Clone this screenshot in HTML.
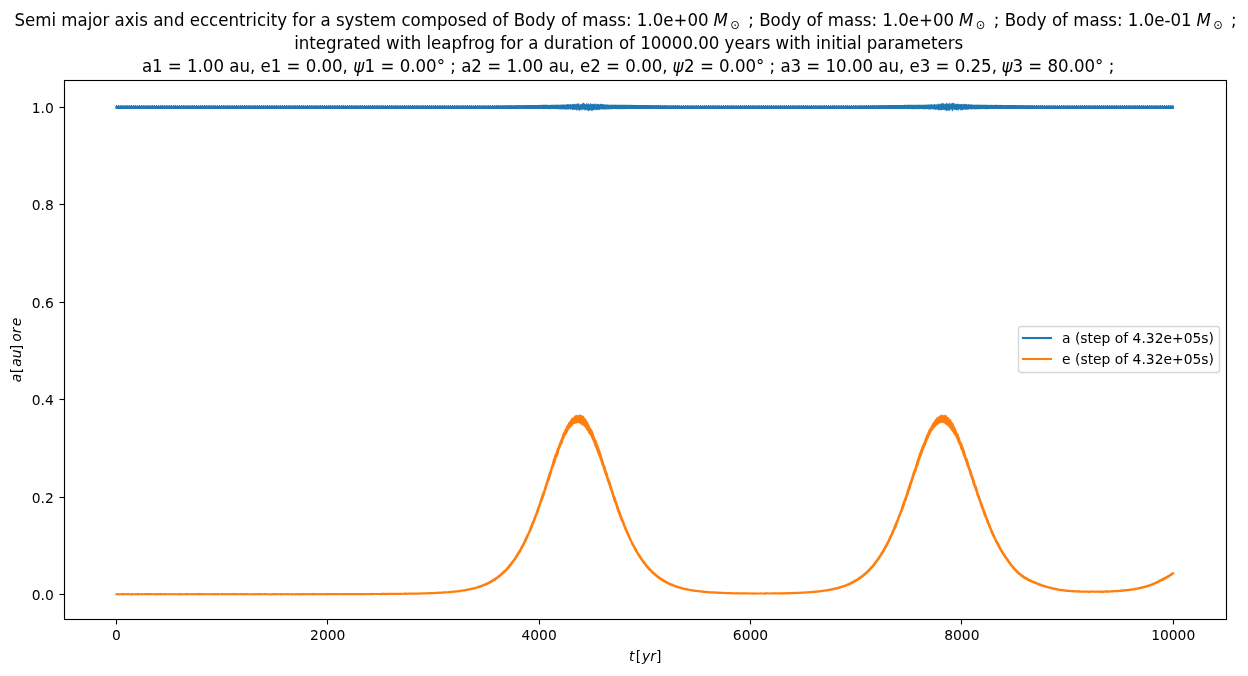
<!DOCTYPE html>
<html lang="en"><head><meta charset="utf-8"><title>Semi major axis and eccentricity</title>
<style>html,body{margin:0;padding:0;background:#fff;}body{width:1248px;height:676px;overflow:hidden;}svg{display:block;}</style>
</head><body>
<svg width="1248" height="676" viewBox="0 0 1248 676" font-family='"DejaVu Sans", "Liberation Sans", sans-serif'>
<rect x="0" y="0" width="1248" height="676" fill="#ffffff"/>
<clipPath id="ax"><rect x="64.5" y="80.5" width="1162.0" height="539.0"/></clipPath>
<g clip-path="url(#ax)">
<path d="M115.40,105.95L115.90,105.95L116.40,105.95L116.90,105.95L117.40,105.95L117.90,105.95L118.40,105.95L118.90,105.95L119.40,105.95L119.90,105.95L120.40,105.95L120.90,105.95L121.40,105.95L121.90,105.95L122.40,105.95L122.90,105.95L123.40,105.95L123.90,105.95L124.40,105.95L124.90,105.95L125.40,105.95L125.90,105.95L126.40,105.95L126.90,105.95L127.40,105.95L127.90,105.95L128.40,105.95L128.90,105.95L129.40,105.95L129.90,105.95L130.40,105.95L130.90,105.95L131.40,105.95L131.90,105.95L132.40,105.95L132.90,105.95L133.40,105.95L133.90,105.95L134.40,105.95L134.90,105.95L135.40,105.95L135.90,105.95L136.40,105.95L136.90,105.95L137.40,105.95L137.90,105.95L138.40,105.95L138.90,105.95L139.40,105.95L139.90,105.95L140.40,105.95L140.90,105.95L141.40,105.95L141.90,105.95L142.40,105.95L142.90,105.95L143.40,105.95L143.90,105.95L144.40,105.95L144.90,105.95L145.40,105.95L145.90,105.95L146.40,105.95L146.90,105.95L147.40,105.95L147.90,105.95L148.40,105.95L148.90,105.95L149.40,105.95L149.90,105.95L150.40,105.95L150.90,105.95L151.40,105.95L151.90,105.95L152.40,105.95L152.90,105.95L153.40,105.95L153.90,105.95L154.40,105.95L154.90,105.95L155.40,105.95L155.90,105.95L156.40,105.95L156.90,105.95L157.40,105.95L157.90,105.95L158.40,105.95L158.90,105.95L159.40,105.95L159.90,105.95L160.40,105.95L160.90,105.95L161.40,105.95L161.90,105.95L162.40,105.95L162.90,105.95L163.40,105.95L163.90,105.95L164.40,105.95L164.90,105.95L165.40,105.95L165.90,105.95L166.40,105.95L166.90,105.95L167.40,105.95L167.90,105.95L168.40,105.95L168.90,105.95L169.40,105.95L169.90,105.95L170.40,105.95L170.90,105.95L171.40,105.95L171.90,105.95L172.40,105.95L172.90,105.95L173.40,105.95L173.90,105.95L174.40,105.95L174.90,105.95L175.40,105.95L175.90,105.95L176.40,105.95L176.90,105.95L177.40,105.95L177.90,105.95L178.40,105.95L178.90,105.95L179.40,105.95L179.90,105.95L180.40,105.95L180.90,105.95L181.40,105.95L181.90,105.95L182.40,105.95L182.90,105.95L183.40,105.95L183.90,105.95L184.40,105.95L184.90,105.95L185.40,105.95L185.90,105.95L186.40,105.95L186.90,105.95L187.40,105.95L187.90,105.95L188.40,105.95L188.90,105.95L189.40,105.95L189.90,105.95L190.40,105.95L190.90,105.95L191.40,105.95L191.90,105.95L192.40,105.95L192.90,105.95L193.40,105.95L193.90,105.95L194.40,105.95L194.90,105.95L195.40,105.95L195.90,105.95L196.40,105.95L196.90,105.95L197.40,105.95L197.90,105.95L198.40,105.95L198.90,105.95L199.40,105.95L199.90,105.95L200.40,105.95L200.90,105.95L201.40,105.95L201.90,105.95L202.40,105.95L202.90,105.95L203.40,105.95L203.90,105.95L204.40,105.95L204.90,105.95L205.40,105.95L205.90,105.95L206.40,105.95L206.90,105.95L207.40,105.95L207.90,105.95L208.40,105.95L208.90,105.95L209.40,105.95L209.90,105.95L210.40,105.95L210.90,105.95L211.40,105.95L211.90,105.95L212.40,105.95L212.90,105.95L213.40,105.95L213.90,105.95L214.40,105.95L214.90,105.95L215.40,105.95L215.90,105.95L216.40,105.95L216.90,105.95L217.40,105.95L217.90,105.95L218.40,105.95L218.90,105.95L219.40,105.95L219.90,105.95L220.40,105.95L220.90,105.95L221.40,105.95L221.90,105.95L222.40,105.95L222.90,105.95L223.40,105.95L223.90,105.95L224.40,105.95L224.90,105.95L225.40,105.95L225.90,105.95L226.40,105.95L226.90,105.95L227.40,105.95L227.90,105.95L228.40,105.95L228.90,105.95L229.40,105.95L229.90,105.95L230.40,105.95L230.90,105.95L231.40,105.95L231.90,105.95L232.40,105.95L232.90,105.95L233.40,105.95L233.90,105.95L234.40,105.95L234.90,105.95L235.40,105.95L235.90,105.95L236.40,105.95L236.90,105.95L237.40,105.95L237.90,105.95L238.40,105.95L238.90,105.95L239.40,105.95L239.90,105.95L240.40,105.95L240.90,105.95L241.40,105.95L241.90,105.95L242.40,105.95L242.90,105.95L243.40,105.95L243.90,105.95L244.40,105.95L244.90,105.95L245.40,105.95L245.90,105.95L246.40,105.95L246.90,105.95L247.40,105.95L247.90,105.95L248.40,105.95L248.90,105.95L249.40,105.95L249.90,105.95L250.40,105.95L250.90,105.95L251.40,105.95L251.90,105.95L252.40,105.95L252.90,105.95L253.40,105.95L253.90,105.95L254.40,105.95L254.90,105.95L255.40,105.95L255.90,105.95L256.40,105.95L256.90,105.95L257.40,105.95L257.90,105.95L258.40,105.95L258.90,105.95L259.40,105.95L259.90,105.95L260.40,105.95L260.90,105.95L261.40,105.95L261.90,105.95L262.40,105.95L262.90,105.95L263.40,105.95L263.90,105.95L264.40,105.95L264.90,105.95L265.40,105.95L265.90,105.95L266.40,105.95L266.90,105.95L267.40,105.95L267.90,105.95L268.40,105.95L268.90,105.95L269.40,105.95L269.90,105.95L270.40,105.95L270.90,105.95L271.40,105.95L271.90,105.95L272.40,105.95L272.90,105.95L273.40,105.95L273.90,105.95L274.40,105.95L274.90,105.95L275.40,105.95L275.90,105.95L276.40,105.95L276.90,105.95L277.40,105.95L277.90,105.95L278.40,105.95L278.90,105.95L279.40,105.95L279.90,105.95L280.40,105.95L280.90,105.95L281.40,105.95L281.90,105.95L282.40,105.95L282.90,105.95L283.40,105.95L283.90,105.95L284.40,105.95L284.90,105.95L285.40,105.95L285.90,105.95L286.40,105.95L286.90,105.95L287.40,105.95L287.90,105.95L288.40,105.95L288.90,105.95L289.40,105.95L289.90,105.95L290.40,105.95L290.90,105.95L291.40,105.95L291.90,105.95L292.40,105.95L292.90,105.95L293.40,105.95L293.90,105.95L294.40,105.95L294.90,105.95L295.40,105.95L295.90,105.95L296.40,105.95L296.90,105.95L297.40,105.95L297.90,105.95L298.40,105.95L298.90,105.95L299.40,105.95L299.90,105.95L300.40,105.95L300.90,105.95L301.40,105.95L301.90,105.95L302.40,105.95L302.90,105.95L303.40,105.95L303.90,105.95L304.40,105.95L304.90,105.95L305.40,105.95L305.90,105.95L306.40,105.95L306.90,105.95L307.40,105.95L307.90,105.95L308.40,105.95L308.90,105.95L309.40,105.95L309.90,105.95L310.40,105.95L310.90,105.95L311.40,105.95L311.90,105.95L312.40,105.95L312.90,105.95L313.40,105.95L313.90,105.95L314.40,105.95L314.90,105.95L315.40,105.95L315.90,105.95L316.40,105.95L316.90,105.95L317.40,105.95L317.90,105.95L318.40,105.95L318.90,105.95L319.40,105.95L319.90,105.95L320.40,105.95L320.90,105.95L321.40,105.95L321.90,105.95L322.40,105.95L322.90,105.95L323.40,105.95L323.90,105.95L324.40,105.95L324.90,105.95L325.40,105.95L325.90,105.95L326.40,105.95L326.90,105.95L327.40,105.95L327.90,105.95L328.40,105.95L328.90,105.95L329.40,105.95L329.90,105.95L330.40,105.95L330.90,105.95L331.40,105.95L331.90,105.95L332.40,105.95L332.90,105.95L333.40,105.95L333.90,105.95L334.40,105.95L334.90,105.95L335.40,105.95L335.90,105.95L336.40,105.95L336.90,105.95L337.40,105.95L337.90,105.95L338.40,105.95L338.90,105.95L339.40,105.95L339.90,105.95L340.40,105.95L340.90,105.95L341.40,105.95L341.90,105.95L342.40,105.95L342.90,105.95L343.40,105.95L343.90,105.95L344.40,105.95L344.90,105.95L345.40,105.95L345.90,105.95L346.40,105.95L346.90,105.95L347.40,105.95L347.90,105.95L348.40,105.95L348.90,105.95L349.40,105.95L349.90,105.95L350.40,105.95L350.90,105.95L351.40,105.95L351.90,105.95L352.40,105.95L352.90,105.95L353.40,105.95L353.90,105.95L354.40,105.95L354.90,105.95L355.40,105.95L355.90,105.95L356.40,105.95L356.90,105.95L357.40,105.95L357.90,105.95L358.40,105.95L358.90,105.95L359.40,105.95L359.90,105.95L360.40,105.95L360.90,105.95L361.40,105.95L361.90,105.95L362.40,105.95L362.90,105.95L363.40,105.95L363.90,105.95L364.40,105.95L364.90,105.95L365.40,105.95L365.90,105.95L366.40,105.95L366.90,105.95L367.40,105.95L367.90,105.95L368.40,105.95L368.90,105.95L369.40,105.95L369.90,105.95L370.40,105.95L370.90,105.95L371.40,105.95L371.90,105.95L372.40,105.95L372.90,105.95L373.40,105.95L373.90,105.95L374.40,105.95L374.90,105.95L375.40,105.95L375.90,105.95L376.40,105.95L376.90,105.95L377.40,105.95L377.90,105.95L378.40,105.95L378.90,105.95L379.40,105.95L379.90,105.95L380.40,105.95L380.90,105.95L381.40,105.95L381.90,105.95L382.40,105.95L382.90,105.95L383.40,105.95L383.90,105.95L384.40,105.95L384.90,105.95L385.40,105.95L385.90,105.95L386.40,105.95L386.90,105.95L387.40,105.95L387.90,105.95L388.40,105.95L388.90,105.95L389.40,105.95L389.90,105.95L390.40,105.95L390.90,105.95L391.40,105.95L391.90,105.95L392.40,105.95L392.90,105.95L393.40,105.95L393.90,105.95L394.40,105.95L394.90,105.95L395.40,105.95L395.90,105.95L396.40,105.95L396.90,105.95L397.40,105.95L397.90,105.95L398.40,105.95L398.90,105.95L399.40,105.95L399.90,105.95L400.40,105.95L400.90,105.95L401.40,105.95L401.90,105.95L402.40,105.95L402.90,105.95L403.40,105.95L403.90,105.95L404.40,105.95L404.90,105.95L405.40,105.95L405.90,105.95L406.40,105.95L406.90,105.95L407.40,105.95L407.90,105.95L408.40,105.95L408.90,105.95L409.40,105.95L409.90,105.95L410.40,105.95L410.90,105.95L411.40,105.95L411.90,105.95L412.40,105.95L412.90,105.95L413.40,105.95L413.90,105.95L414.40,105.95L414.90,105.95L415.40,105.95L415.90,105.95L416.40,105.95L416.90,105.95L417.40,105.95L417.90,105.95L418.40,105.95L418.90,105.95L419.40,105.95L419.90,105.95L420.40,105.95L420.90,105.95L421.40,105.95L421.90,105.95L422.40,105.95L422.90,105.95L423.40,105.95L423.90,105.95L424.40,105.95L424.90,105.95L425.40,105.95L425.90,105.95L426.40,105.95L426.90,105.95L427.40,105.95L427.90,105.95L428.40,105.95L428.90,105.95L429.40,105.95L429.90,105.95L430.40,105.95L430.90,105.95L431.40,105.95L431.90,105.95L432.40,105.95L432.90,105.95L433.40,105.95L433.90,105.95L434.40,105.95L434.90,105.95L435.40,105.95L435.90,105.95L436.40,105.95L436.90,105.95L437.40,105.95L437.90,105.95L438.40,105.95L438.90,105.95L439.40,105.95L439.90,105.95L440.40,105.95L440.90,105.95L441.40,105.95L441.90,105.95L442.40,105.95L442.90,105.95L443.40,105.95L443.90,105.95L444.40,105.95L444.90,105.95L445.40,105.95L445.90,105.95L446.40,105.95L446.90,105.95L447.40,105.95L447.90,105.95L448.40,105.95L448.90,105.95L449.40,105.95L449.90,105.95L450.40,105.95L450.90,105.95L451.40,105.95L451.90,105.95L452.40,105.95L452.90,105.95L453.40,105.95L453.90,105.95L454.40,105.95L454.90,105.95L455.40,105.95L455.90,105.95L456.40,105.95L456.90,105.95L457.40,105.95L457.90,105.95L458.40,105.95L458.90,105.95L459.40,105.95L459.90,105.95L460.40,105.95L460.90,105.95L461.40,105.95L461.90,105.95L462.40,105.95L462.90,105.95L463.40,105.95L463.90,105.95L464.40,105.95L464.90,105.95L465.40,105.95L465.90,105.95L466.40,105.95L466.90,105.95L467.40,105.95L467.90,105.95L468.40,105.95L468.90,105.95L469.40,105.95L469.90,105.95L470.40,105.95L470.90,105.95L471.40,105.95L471.90,105.95L472.40,105.95L472.90,105.95L473.40,105.95L473.90,105.95L474.40,105.95L474.90,105.95L475.40,105.95L475.90,105.95L476.40,105.95L476.90,105.95L477.40,105.95L477.90,105.95L478.40,105.95L478.90,105.95L479.40,105.95L479.90,105.95L480.40,105.95L480.90,105.95L481.40,105.95L481.90,105.95L482.40,105.95L482.90,105.95L483.40,105.95L483.90,105.94L484.40,105.94L484.90,105.94L485.40,105.94L485.90,105.94L486.40,105.94L486.90,105.94L487.40,105.94L487.90,105.93L488.40,105.93L488.90,105.93L489.40,105.93L489.90,105.92L490.40,105.92L490.90,105.92L491.40,105.91L491.90,105.91L492.40,105.91L492.90,105.90L493.40,105.90L493.90,105.89L494.40,105.89L494.90,105.88L495.40,105.87L495.90,105.87L496.40,105.86L496.90,105.85L497.40,105.84L497.90,105.84L498.40,105.83L498.90,105.82L499.40,105.81L499.90,105.80L500.40,105.79L500.90,105.78L501.40,105.76L501.90,105.76L502.40,105.74L502.90,105.73L503.40,105.72L503.90,105.71L504.40,105.69L504.90,105.68L505.40,105.67L505.90,105.65L506.40,105.64L506.90,105.62L507.40,105.61L507.90,105.59L508.40,105.58L508.90,105.56L509.40,105.55L509.90,105.53L510.40,105.51L510.90,105.50L511.40,105.49L511.90,105.48L512.40,105.45L512.90,105.43L513.40,105.43L513.90,105.42L514.40,105.40L514.90,105.37L515.40,105.36L515.90,105.35L516.40,105.34L516.90,105.32L517.40,105.32L517.90,105.29L518.40,105.27L518.90,105.27L519.40,105.25L519.90,105.25L520.40,105.21L520.90,105.21L521.40,105.19L521.90,105.18L522.40,105.18L522.90,105.17L523.40,105.15L523.90,105.15L524.40,105.13L524.90,105.13L525.40,105.09L525.90,105.08L526.40,105.07L526.90,105.09L527.40,105.04L527.90,105.04L528.40,105.05L528.90,105.05L529.40,105.02L529.90,105.02L530.40,104.99L530.90,105.02L531.40,105.01L531.90,104.96L532.40,104.99L532.90,104.99L533.40,104.93L533.90,104.94L534.40,104.95L534.90,104.96L535.40,104.94L535.90,104.89L536.40,104.94L536.90,104.92L537.40,104.91L537.90,104.93L538.40,104.86L538.90,104.94L539.40,104.88L539.90,104.84L540.40,104.93L540.90,104.89L541.40,104.83L541.90,104.89L542.40,104.84L542.90,104.86L543.40,104.87L543.90,104.84L544.40,104.82L544.90,104.76L545.40,104.85L545.90,104.80L546.40,104.81L546.90,104.87L547.40,104.85L547.90,104.89L548.40,104.88L548.90,104.81L549.40,104.72L549.90,104.88L550.40,104.88L550.90,104.78L551.40,104.72L551.90,104.74L552.40,104.83L552.90,104.70L553.40,104.77L553.90,104.64L554.40,104.81L554.90,104.67L555.40,104.67L555.90,104.83L556.40,104.60L556.90,104.65L557.40,104.73L557.90,104.58L558.40,104.79L558.90,104.75L559.40,104.75L559.90,104.65L560.40,104.67L560.90,104.51L561.40,104.44L561.90,104.84L562.40,104.51L562.90,104.45L563.40,104.48L563.90,104.38L564.40,104.40L564.90,104.46L565.40,104.70L565.90,104.47L566.40,104.60L566.90,104.27L567.40,104.30L567.90,104.10L568.40,104.13L568.90,104.32L569.40,104.78L569.90,103.93L570.40,103.96L570.90,103.98L571.40,104.72L571.90,104.32L572.40,103.82L572.90,104.61L573.40,103.43L573.90,104.08L574.40,103.89L574.90,104.61L575.40,103.54L575.90,104.58L576.40,103.20L576.90,104.44L577.40,103.42L577.90,103.43L578.40,103.06L578.90,103.72L579.40,104.58L579.90,104.39L580.40,104.58L580.90,104.00L581.40,103.66L581.90,103.73L582.40,103.66L582.90,103.12L583.40,102.74L583.90,102.75L584.40,103.47L584.90,104.07L585.40,104.14L585.90,104.23L586.40,103.23L586.90,102.55L587.40,104.38L587.90,104.19L588.40,103.13L588.90,103.32L589.40,104.44L589.90,104.21L590.40,102.66L590.90,103.65L591.40,103.66L591.90,104.51L592.40,103.94L592.90,103.81L593.40,103.96L593.90,103.54L594.40,104.48L594.90,103.57L595.40,103.36L595.90,104.22L596.40,104.38L596.90,103.87L597.40,103.96L597.90,104.25L598.40,103.42L598.90,103.93L599.40,104.74L599.90,104.05L600.40,103.71L600.90,103.98L601.40,103.75L601.90,104.03L602.40,103.90L602.90,104.32L603.40,104.29L603.90,104.51L604.40,104.19L604.90,104.18L605.40,104.62L605.90,104.80L606.40,104.43L606.90,104.28L607.40,104.58L607.90,104.69L608.40,104.84L608.90,104.72L609.40,104.59L609.90,104.74L610.40,104.69L610.90,104.73L611.40,104.85L611.90,104.73L612.40,104.56L612.90,104.66L613.40,104.81L613.90,104.64L614.40,104.85L614.90,104.72L615.40,104.59L615.90,104.70L616.40,104.68L616.90,104.71L617.40,104.79L617.90,104.64L618.40,104.75L618.90,104.74L619.40,104.81L619.90,104.74L620.40,104.86L620.90,104.83L621.40,104.77L621.90,104.74L622.40,104.75L622.90,104.86L623.40,104.80L623.90,104.78L624.40,104.82L624.90,104.84L625.40,104.80L625.90,104.80L626.40,104.87L626.90,104.77L627.40,104.88L627.90,104.86L628.40,104.81L628.90,104.90L629.40,104.80L629.90,104.81L630.40,104.87L630.90,104.82L631.40,104.86L631.90,104.88L632.40,104.82L632.90,104.88L633.40,104.88L633.90,104.88L634.40,104.88L634.90,104.87L635.40,104.94L635.90,104.89L636.40,104.88L636.90,104.89L637.40,104.93L637.90,104.97L638.40,104.96L638.90,104.97L639.40,104.93L639.90,104.96L640.40,104.98L640.90,104.98L641.40,104.99L641.90,104.96L642.40,104.96L642.90,104.97L643.40,105.02L643.90,104.99L644.40,105.04L644.90,105.02L645.40,105.05L645.90,105.06L646.40,105.05L646.90,105.07L647.40,105.10L647.90,105.09L648.40,105.11L648.90,105.11L649.40,105.14L649.90,105.12L650.40,105.13L650.90,105.14L651.40,105.18L651.90,105.19L652.40,105.19L652.90,105.21L653.40,105.21L653.90,105.23L654.40,105.25L654.90,105.26L655.40,105.26L655.90,105.29L656.40,105.29L656.90,105.31L657.40,105.33L657.90,105.33L658.40,105.35L658.90,105.36L659.40,105.38L659.90,105.40L660.40,105.41L660.90,105.43L661.40,105.45L661.90,105.46L662.40,105.47L662.90,105.49L663.40,105.51L663.90,105.52L664.40,105.54L664.90,105.55L665.40,105.57L665.90,105.58L666.40,105.59L666.90,105.61L667.40,105.63L667.90,105.64L668.40,105.66L668.90,105.67L669.40,105.68L669.90,105.70L670.40,105.71L670.90,105.72L671.40,105.73L671.90,105.75L672.40,105.76L672.90,105.77L673.40,105.78L673.90,105.79L674.40,105.80L674.90,105.81L675.40,105.82L675.90,105.83L676.40,105.84L676.90,105.85L677.40,105.86L677.90,105.86L678.40,105.87L678.90,105.88L679.40,105.88L679.90,105.89L680.40,105.89L680.90,105.90L681.40,105.90L681.90,105.91L682.40,105.91L682.90,105.92L683.40,105.92L683.90,105.92L684.40,105.92L684.90,105.93L685.40,105.93L685.90,105.93L686.40,105.93L686.90,105.94L687.40,105.94L687.90,105.94L688.40,105.94L688.90,105.94L689.40,105.94L689.90,105.94L690.40,105.95L690.90,105.95L691.40,105.95L691.90,105.95L692.40,105.95L692.90,105.95L693.40,105.95L693.90,105.95L694.40,105.95L694.90,105.95L695.40,105.95L695.90,105.95L696.40,105.95L696.90,105.95L697.40,105.95L697.90,105.95L698.40,105.95L698.90,105.95L699.40,105.95L699.90,105.95L700.40,105.95L700.90,105.95L701.40,105.95L701.90,105.95L702.40,105.95L702.90,105.95L703.40,105.95L703.90,105.95L704.40,105.95L704.90,105.95L705.40,105.95L705.90,105.95L706.40,105.95L706.90,105.95L707.40,105.95L707.90,105.95L708.40,105.95L708.90,105.95L709.40,105.95L709.90,105.95L710.40,105.95L710.90,105.95L711.40,105.95L711.90,105.95L712.40,105.95L712.90,105.95L713.40,105.95L713.90,105.95L714.40,105.95L714.90,105.95L715.40,105.95L715.90,105.95L716.40,105.95L716.90,105.95L717.40,105.95L717.90,105.95L718.40,105.95L718.90,105.95L719.40,105.95L719.90,105.95L720.40,105.95L720.90,105.95L721.40,105.95L721.90,105.95L722.40,105.95L722.90,105.95L723.40,105.95L723.90,105.95L724.40,105.95L724.90,105.95L725.40,105.95L725.90,105.95L726.40,105.95L726.90,105.95L727.40,105.95L727.90,105.95L728.40,105.95L728.90,105.95L729.40,105.95L729.90,105.95L730.40,105.95L730.90,105.95L731.40,105.95L731.90,105.95L732.40,105.95L732.90,105.95L733.40,105.95L733.90,105.95L734.40,105.95L734.90,105.95L735.40,105.95L735.90,105.95L736.40,105.95L736.90,105.95L737.40,105.95L737.90,105.95L738.40,105.95L738.90,105.95L739.40,105.95L739.90,105.95L740.40,105.95L740.90,105.95L741.40,105.95L741.90,105.95L742.40,105.95L742.90,105.95L743.40,105.95L743.90,105.95L744.40,105.95L744.90,105.95L745.40,105.95L745.90,105.95L746.40,105.95L746.90,105.95L747.40,105.95L747.90,105.95L748.40,105.95L748.90,105.95L749.40,105.95L749.90,105.95L750.40,105.95L750.90,105.95L751.40,105.95L751.90,105.95L752.40,105.95L752.90,105.95L753.40,105.95L753.90,105.95L754.40,105.95L754.90,105.95L755.40,105.95L755.90,105.95L756.40,105.95L756.90,105.95L757.40,105.95L757.90,105.95L758.40,105.95L758.90,105.95L759.40,105.95L759.90,105.95L760.40,105.95L760.90,105.95L761.40,105.95L761.90,105.95L762.40,105.95L762.90,105.95L763.40,105.95L763.90,105.95L764.40,105.95L764.90,105.95L765.40,105.95L765.90,105.95L766.40,105.95L766.90,105.95L767.40,105.95L767.90,105.95L768.40,105.95L768.90,105.95L769.40,105.95L769.90,105.95L770.40,105.95L770.90,105.95L771.40,105.95L771.90,105.95L772.40,105.95L772.90,105.95L773.40,105.95L773.90,105.95L774.40,105.95L774.90,105.95L775.40,105.95L775.90,105.95L776.40,105.95L776.90,105.95L777.40,105.95L777.90,105.95L778.40,105.95L778.90,105.95L779.40,105.95L779.90,105.95L780.40,105.95L780.90,105.95L781.40,105.95L781.90,105.95L782.40,105.95L782.90,105.95L783.40,105.95L783.90,105.95L784.40,105.95L784.90,105.95L785.40,105.95L785.90,105.95L786.40,105.95L786.90,105.95L787.40,105.95L787.90,105.95L788.40,105.95L788.90,105.95L789.40,105.95L789.90,105.95L790.40,105.95L790.90,105.95L791.40,105.95L791.90,105.95L792.40,105.95L792.90,105.95L793.40,105.95L793.90,105.95L794.40,105.95L794.90,105.95L795.40,105.95L795.90,105.95L796.40,105.95L796.90,105.95L797.40,105.95L797.90,105.95L798.40,105.95L798.90,105.95L799.40,105.95L799.90,105.95L800.40,105.95L800.90,105.95L801.40,105.95L801.90,105.95L802.40,105.95L802.90,105.95L803.40,105.95L803.90,105.95L804.40,105.95L804.90,105.95L805.40,105.95L805.90,105.95L806.40,105.95L806.90,105.95L807.40,105.95L807.90,105.95L808.40,105.95L808.90,105.95L809.40,105.95L809.90,105.95L810.40,105.95L810.90,105.95L811.40,105.95L811.90,105.95L812.40,105.95L812.90,105.95L813.40,105.95L813.90,105.95L814.40,105.95L814.90,105.95L815.40,105.95L815.90,105.95L816.40,105.95L816.90,105.95L817.40,105.95L817.90,105.95L818.40,105.95L818.90,105.95L819.40,105.95L819.90,105.95L820.40,105.95L820.90,105.95L821.40,105.95L821.90,105.95L822.40,105.95L822.90,105.95L823.40,105.95L823.90,105.95L824.40,105.95L824.90,105.95L825.40,105.95L825.90,105.95L826.40,105.95L826.90,105.95L827.40,105.95L827.90,105.95L828.40,105.95L828.90,105.95L829.40,105.95L829.90,105.95L830.40,105.95L830.90,105.95L831.40,105.95L831.90,105.95L832.40,105.95L832.90,105.95L833.40,105.95L833.90,105.95L834.40,105.95L834.90,105.95L835.40,105.95L835.90,105.95L836.40,105.95L836.90,105.95L837.40,105.95L837.90,105.95L838.40,105.95L838.90,105.95L839.40,105.95L839.90,105.95L840.40,105.95L840.90,105.95L841.40,105.95L841.90,105.95L842.40,105.95L842.90,105.95L843.40,105.95L843.90,105.95L844.40,105.95L844.90,105.95L845.40,105.95L845.90,105.95L846.40,105.95L846.90,105.95L847.40,105.95L847.90,105.95L848.40,105.94L848.90,105.94L849.40,105.94L849.90,105.94L850.40,105.94L850.90,105.94L851.40,105.94L851.90,105.94L852.40,105.93L852.90,105.93L853.40,105.93L853.90,105.93L854.40,105.92L854.90,105.92L855.40,105.92L855.90,105.91L856.40,105.91L856.90,105.90L857.40,105.90L857.90,105.89L858.40,105.89L858.90,105.88L859.40,105.88L859.90,105.87L860.40,105.86L860.90,105.86L861.40,105.85L861.90,105.84L862.40,105.83L862.90,105.82L863.40,105.82L863.90,105.81L864.40,105.79L864.90,105.78L865.40,105.77L865.90,105.76L866.40,105.75L866.90,105.74L867.40,105.72L867.90,105.71L868.40,105.70L868.90,105.69L869.40,105.68L869.90,105.66L870.40,105.65L870.90,105.63L871.40,105.62L871.90,105.60L872.40,105.58L872.90,105.58L873.40,105.56L873.90,105.54L874.40,105.52L874.90,105.51L875.40,105.49L875.90,105.48L876.40,105.47L876.90,105.44L877.40,105.43L877.90,105.42L878.40,105.40L878.90,105.39L879.40,105.37L879.90,105.36L880.40,105.35L880.90,105.34L881.40,105.31L881.90,105.29L882.40,105.29L882.90,105.26L883.40,105.25L883.90,105.24L884.40,105.22L884.90,105.22L885.40,105.20L885.90,105.20L886.40,105.18L886.90,105.17L887.40,105.15L887.90,105.14L888.40,105.13L888.90,105.11L889.40,105.09L889.90,105.11L890.40,105.08L890.90,105.06L891.40,105.05L891.90,105.06L892.40,105.07L892.90,105.03L893.40,105.01L893.90,104.99L894.40,105.02L894.90,105.01L895.40,105.00L895.90,105.02L896.40,104.98L896.90,104.99L897.40,104.93L897.90,104.99L898.40,104.94L898.90,104.92L899.40,104.96L899.90,104.94L900.40,104.96L900.90,104.89L901.40,104.94L901.90,104.94L902.40,104.94L902.90,104.91L903.40,104.92L903.90,104.84L904.40,104.85L904.90,104.82L905.40,104.84L905.90,104.90L906.40,104.91L906.90,104.86L907.40,104.87L907.90,104.81L908.40,104.81L908.90,104.87L909.40,104.76L909.90,104.76L910.40,104.76L910.90,104.84L911.40,104.80L911.90,104.82L912.40,104.84L912.90,104.87L913.40,104.76L913.90,104.72L914.40,104.72L914.90,104.88L915.40,104.83L915.90,104.77L916.40,104.71L916.90,104.84L917.40,104.68L917.90,104.65L918.40,104.78L918.90,104.68L919.40,104.87L919.90,104.69L920.40,104.80L920.90,104.74L921.40,104.76L921.90,104.77L922.40,104.76L922.90,104.81L923.40,104.72L923.90,104.59L924.40,104.83L924.90,104.63L925.40,104.85L925.90,104.81L926.40,104.45L926.90,104.84L927.40,104.48L927.90,104.43L928.40,104.49L928.90,104.43L929.40,104.42L929.90,104.50L930.40,104.39L930.90,104.29L931.40,104.34L931.90,104.20L932.40,104.80L932.90,104.21L933.40,104.76L933.90,104.36L934.40,104.10L934.90,104.08L935.40,104.58L935.90,104.73L936.40,104.21L936.90,104.26L937.40,104.67L937.90,103.63L938.40,104.27L938.90,103.43L939.40,103.61L939.90,104.45L940.40,104.05L940.90,103.69L941.40,103.62L941.90,102.90L942.40,103.44L942.90,102.77L943.40,103.46L943.90,103.39L944.40,104.45L944.90,103.24L945.40,103.86L945.90,104.17L946.40,102.89L946.90,102.46L947.40,104.09L947.90,102.93L948.40,104.33L948.90,103.17L949.40,103.70L949.90,102.26L950.40,104.50L950.90,102.47L951.40,103.94L951.90,103.08L952.40,103.17L952.90,102.67L953.40,103.28L953.90,102.38L954.40,104.35L954.90,103.02L955.40,103.75L955.90,104.41L956.40,103.87L956.90,103.92L957.40,103.42L957.90,104.00L958.40,104.27L958.90,103.47L959.40,104.53L959.90,103.74L960.40,104.35L960.90,104.23L961.40,103.61L961.90,104.29L962.40,103.96L962.90,104.54L963.40,103.80L963.90,104.68L964.40,103.82L964.90,103.86L965.40,103.95L965.90,104.11L966.40,104.07L966.90,104.41L967.40,104.46L967.90,104.18L968.40,104.31L968.90,104.11L969.40,104.66L969.90,104.32L970.40,104.44L970.90,104.35L971.40,104.43L971.90,104.44L972.40,104.77L972.90,104.56L973.40,104.63L973.90,104.73L974.40,104.49L974.90,104.82L975.40,104.83L975.90,104.64L976.40,104.65L976.90,104.58L977.40,104.79L977.90,104.77L978.40,104.58L978.90,104.86L979.40,104.77L979.90,104.86L980.40,104.63L980.90,104.81L981.40,104.64L981.90,104.64L982.40,104.65L982.90,104.77L983.40,104.72L983.90,104.77L984.40,104.87L984.90,104.82L985.40,104.76L985.90,104.82L986.40,104.80L986.90,104.77L987.40,104.88L987.90,104.83L988.40,104.89L988.90,104.80L989.40,104.88L989.90,104.83L990.40,104.85L990.90,104.90L991.40,104.77L991.90,104.88L992.40,104.81L992.90,104.90L993.40,104.90L993.90,104.91L994.40,104.88L994.90,104.80L995.40,104.84L995.90,104.82L996.40,104.87L996.90,104.91L997.40,104.85L997.90,104.92L998.40,104.90L998.90,104.87L999.40,104.92L999.90,104.86L1000.40,104.87L1000.90,104.88L1001.40,104.96L1001.90,104.91L1002.40,104.97L1002.90,104.95L1003.40,104.92L1003.90,104.92L1004.40,104.92L1004.90,104.95L1005.40,104.98L1005.90,104.99L1006.40,104.99L1006.90,104.98L1007.40,105.02L1007.90,104.99L1008.40,105.01L1008.90,105.02L1009.40,105.06L1009.90,105.03L1010.40,105.06L1010.90,105.07L1011.40,105.05L1011.90,105.06L1012.40,105.08L1012.90,105.12L1013.40,105.11L1013.90,105.11L1014.40,105.14L1014.90,105.15L1015.40,105.16L1015.90,105.17L1016.40,105.18L1016.90,105.18L1017.40,105.22L1017.90,105.22L1018.40,105.23L1018.90,105.24L1019.40,105.26L1019.90,105.28L1020.40,105.29L1020.90,105.31L1021.40,105.32L1021.90,105.33L1022.40,105.34L1022.90,105.36L1023.40,105.38L1023.90,105.39L1024.40,105.41L1024.90,105.42L1025.40,105.44L1025.90,105.45L1026.40,105.46L1026.90,105.49L1027.40,105.50L1027.90,105.51L1028.40,105.53L1028.90,105.54L1029.40,105.55L1029.90,105.57L1030.40,105.59L1030.90,105.60L1031.40,105.61L1031.90,105.63L1032.40,105.65L1032.90,105.66L1033.40,105.67L1033.90,105.69L1034.40,105.70L1034.90,105.72L1035.40,105.73L1035.90,105.74L1036.40,105.75L1036.90,105.76L1037.40,105.77L1037.90,105.78L1038.40,105.80L1038.90,105.81L1039.40,105.81L1039.90,105.82L1040.40,105.83L1040.90,105.84L1041.40,105.85L1041.90,105.86L1042.40,105.86L1042.90,105.87L1043.40,105.88L1043.90,105.88L1044.40,105.89L1044.90,105.90L1045.40,105.90L1045.90,105.90L1046.40,105.91L1046.90,105.91L1047.40,105.92L1047.90,105.92L1048.40,105.92L1048.90,105.93L1049.40,105.93L1049.90,105.93L1050.40,105.93L1050.90,105.94L1051.40,105.94L1051.90,105.94L1052.40,105.94L1052.90,105.94L1053.40,105.94L1053.90,105.94L1054.40,105.94L1054.90,105.95L1055.40,105.95L1055.90,105.95L1056.40,105.95L1056.90,105.95L1057.40,105.95L1057.90,105.95L1058.40,105.95L1058.90,105.95L1059.40,105.95L1059.90,105.95L1060.40,105.95L1060.90,105.95L1061.40,105.95L1061.90,105.95L1062.40,105.95L1062.90,105.95L1063.40,105.95L1063.90,105.95L1064.40,105.95L1064.90,105.95L1065.40,105.95L1065.90,105.95L1066.40,105.95L1066.90,105.95L1067.40,105.95L1067.90,105.95L1068.40,105.95L1068.90,105.95L1069.40,105.95L1069.90,105.95L1070.40,105.95L1070.90,105.95L1071.40,105.95L1071.90,105.95L1072.40,105.95L1072.90,105.95L1073.40,105.95L1073.90,105.95L1074.40,105.95L1074.90,105.95L1075.40,105.95L1075.90,105.95L1076.40,105.95L1076.90,105.95L1077.40,105.95L1077.90,105.95L1078.40,105.95L1078.90,105.95L1079.40,105.95L1079.90,105.95L1080.40,105.95L1080.90,105.95L1081.40,105.95L1081.90,105.95L1082.40,105.95L1082.90,105.95L1083.40,105.95L1083.90,105.95L1084.40,105.95L1084.90,105.95L1085.40,105.95L1085.90,105.95L1086.40,105.95L1086.90,105.95L1087.40,105.95L1087.90,105.95L1088.40,105.95L1088.90,105.95L1089.40,105.95L1089.90,105.95L1090.40,105.95L1090.90,105.95L1091.40,105.95L1091.90,105.95L1092.40,105.95L1092.90,105.95L1093.40,105.95L1093.90,105.95L1094.40,105.95L1094.90,105.95L1095.40,105.95L1095.90,105.95L1096.40,105.95L1096.90,105.95L1097.40,105.95L1097.90,105.95L1098.40,105.95L1098.90,105.95L1099.40,105.95L1099.90,105.95L1100.40,105.95L1100.90,105.95L1101.40,105.95L1101.90,105.95L1102.40,105.95L1102.90,105.95L1103.40,105.95L1103.90,105.95L1104.40,105.95L1104.90,105.95L1105.40,105.95L1105.90,105.95L1106.40,105.95L1106.90,105.95L1107.40,105.95L1107.90,105.95L1108.40,105.95L1108.90,105.95L1109.40,105.95L1109.90,105.95L1110.40,105.95L1110.90,105.95L1111.40,105.95L1111.90,105.95L1112.40,105.95L1112.90,105.95L1113.40,105.95L1113.90,105.95L1114.40,105.95L1114.90,105.95L1115.40,105.95L1115.90,105.95L1116.40,105.95L1116.90,105.95L1117.40,105.95L1117.90,105.95L1118.40,105.95L1118.90,105.95L1119.40,105.95L1119.90,105.95L1120.40,105.95L1120.90,105.95L1121.40,105.95L1121.90,105.95L1122.40,105.95L1122.90,105.95L1123.40,105.95L1123.90,105.95L1124.40,105.95L1124.90,105.95L1125.40,105.95L1125.90,105.95L1126.40,105.95L1126.90,105.95L1127.40,105.95L1127.90,105.95L1128.40,105.95L1128.90,105.95L1129.40,105.95L1129.90,105.95L1130.40,105.95L1130.90,105.95L1131.40,105.95L1131.90,105.95L1132.40,105.95L1132.90,105.95L1133.40,105.95L1133.90,105.95L1134.40,105.95L1134.90,105.95L1135.40,105.95L1135.90,105.95L1136.40,105.95L1136.90,105.95L1137.40,105.95L1137.90,105.95L1138.40,105.95L1138.90,105.95L1139.40,105.95L1139.90,105.95L1140.40,105.95L1140.90,105.95L1141.40,105.95L1141.90,105.95L1142.40,105.95L1142.90,105.95L1143.40,105.95L1143.90,105.95L1144.40,105.95L1144.90,105.95L1145.40,105.95L1145.90,105.95L1146.40,105.95L1146.90,105.95L1147.40,105.95L1147.90,105.95L1148.40,105.95L1148.90,105.95L1149.40,105.95L1149.90,105.95L1150.40,105.95L1150.90,105.95L1151.40,105.95L1151.90,105.95L1152.40,105.95L1152.90,105.95L1153.40,105.95L1153.90,105.95L1154.40,105.95L1154.90,105.95L1155.40,105.95L1155.90,105.95L1156.40,105.95L1156.90,105.95L1157.40,105.95L1157.90,105.95L1158.40,105.95L1158.90,105.95L1159.40,105.95L1159.90,105.95L1160.40,105.95L1160.90,105.95L1161.40,105.95L1161.90,105.95L1162.40,105.95L1162.90,105.95L1163.40,105.95L1163.90,105.95L1164.40,105.95L1164.90,105.95L1165.40,105.95L1165.90,105.95L1166.40,105.95L1166.90,105.95L1167.40,105.95L1167.90,105.95L1168.40,105.95L1168.90,105.95L1169.40,105.95L1169.90,105.95L1170.40,105.95L1170.90,105.95L1171.40,105.95L1171.90,105.95L1172.40,105.95L1172.90,105.95L1173.40,105.95L1173.90,105.95L1173.90,109.00L1173.40,109.00L1172.90,109.00L1172.40,109.00L1171.90,109.00L1171.40,109.00L1170.90,109.00L1170.40,109.00L1169.90,109.00L1169.40,109.00L1168.90,109.00L1168.40,109.00L1167.90,109.00L1167.40,109.00L1166.90,109.00L1166.40,109.00L1165.90,109.00L1165.40,109.00L1164.90,109.00L1164.40,109.00L1163.90,109.00L1163.40,109.00L1162.90,109.00L1162.40,109.00L1161.90,109.00L1161.40,109.00L1160.90,109.00L1160.40,109.00L1159.90,109.00L1159.40,109.00L1158.90,109.00L1158.40,109.00L1157.90,109.00L1157.40,109.00L1156.90,109.00L1156.40,109.00L1155.90,109.00L1155.40,109.00L1154.90,109.00L1154.40,109.00L1153.90,109.00L1153.40,109.00L1152.90,109.00L1152.40,109.00L1151.90,109.00L1151.40,109.00L1150.90,109.00L1150.40,109.00L1149.90,109.00L1149.40,109.00L1148.90,109.00L1148.40,109.00L1147.90,109.00L1147.40,109.00L1146.90,109.00L1146.40,109.00L1145.90,109.00L1145.40,109.00L1144.90,109.00L1144.40,109.00L1143.90,109.00L1143.40,109.00L1142.90,109.00L1142.40,109.00L1141.90,109.00L1141.40,109.00L1140.90,109.00L1140.40,109.00L1139.90,109.00L1139.40,109.00L1138.90,109.00L1138.40,109.00L1137.90,109.00L1137.40,109.00L1136.90,109.00L1136.40,109.00L1135.90,109.00L1135.40,109.00L1134.90,109.00L1134.40,109.00L1133.90,109.00L1133.40,109.00L1132.90,109.00L1132.40,109.00L1131.90,109.00L1131.40,109.00L1130.90,109.00L1130.40,109.00L1129.90,109.00L1129.40,109.00L1128.90,109.00L1128.40,109.00L1127.90,109.00L1127.40,109.00L1126.90,109.00L1126.40,109.00L1125.90,109.00L1125.40,109.00L1124.90,109.00L1124.40,109.00L1123.90,109.00L1123.40,109.00L1122.90,109.00L1122.40,109.00L1121.90,109.00L1121.40,109.00L1120.90,109.00L1120.40,109.00L1119.90,109.00L1119.40,109.00L1118.90,109.00L1118.40,109.00L1117.90,109.00L1117.40,109.00L1116.90,109.00L1116.40,109.00L1115.90,109.00L1115.40,109.00L1114.90,109.00L1114.40,109.00L1113.90,109.00L1113.40,109.00L1112.90,109.00L1112.40,109.00L1111.90,109.00L1111.40,109.00L1110.90,109.00L1110.40,109.00L1109.90,109.00L1109.40,109.00L1108.90,109.00L1108.40,109.00L1107.90,109.00L1107.40,109.00L1106.90,109.00L1106.40,109.00L1105.90,109.00L1105.40,109.00L1104.90,109.00L1104.40,109.00L1103.90,109.00L1103.40,109.00L1102.90,109.00L1102.40,109.00L1101.90,109.00L1101.40,109.00L1100.90,109.00L1100.40,109.00L1099.90,109.00L1099.40,109.00L1098.90,109.00L1098.40,109.00L1097.90,109.00L1097.40,109.00L1096.90,109.00L1096.40,109.00L1095.90,109.00L1095.40,109.00L1094.90,109.00L1094.40,109.00L1093.90,109.00L1093.40,109.00L1092.90,109.00L1092.40,109.00L1091.90,109.00L1091.40,109.00L1090.90,109.00L1090.40,109.00L1089.90,109.00L1089.40,109.00L1088.90,109.00L1088.40,109.00L1087.90,109.00L1087.40,109.00L1086.90,109.00L1086.40,109.00L1085.90,109.00L1085.40,109.00L1084.90,109.00L1084.40,109.00L1083.90,109.00L1083.40,109.00L1082.90,109.00L1082.40,109.00L1081.90,109.00L1081.40,109.00L1080.90,109.00L1080.40,109.00L1079.90,109.00L1079.40,109.00L1078.90,109.00L1078.40,109.00L1077.90,109.00L1077.40,109.00L1076.90,109.00L1076.40,109.00L1075.90,109.00L1075.40,109.00L1074.90,109.00L1074.40,109.00L1073.90,109.00L1073.40,109.00L1072.90,109.00L1072.40,109.00L1071.90,109.00L1071.40,109.00L1070.90,109.00L1070.40,109.00L1069.90,109.00L1069.40,109.00L1068.90,109.00L1068.40,109.00L1067.90,109.00L1067.40,109.00L1066.90,109.00L1066.40,109.00L1065.90,109.00L1065.40,109.00L1064.90,109.00L1064.40,109.00L1063.90,109.00L1063.40,109.00L1062.90,109.00L1062.40,109.00L1061.90,109.00L1061.40,109.00L1060.90,109.00L1060.40,109.00L1059.90,109.00L1059.40,109.00L1058.90,109.00L1058.40,109.00L1057.90,109.00L1057.40,109.00L1056.90,109.00L1056.40,109.00L1055.90,109.00L1055.40,109.00L1054.90,109.00L1054.40,109.00L1053.90,109.00L1053.40,109.00L1052.90,109.00L1052.40,109.00L1051.90,109.00L1051.40,109.00L1050.90,109.00L1050.40,109.00L1049.90,109.00L1049.40,109.00L1048.90,109.00L1048.40,109.00L1047.90,109.00L1047.40,109.00L1046.90,109.00L1046.40,109.00L1045.90,109.00L1045.40,109.00L1044.90,109.00L1044.40,109.00L1043.90,109.00L1043.40,109.00L1042.90,109.00L1042.40,109.00L1041.90,109.00L1041.40,109.00L1040.90,109.00L1040.40,109.00L1039.90,109.00L1039.40,109.00L1038.90,109.00L1038.40,109.00L1037.90,109.00L1037.40,109.00L1036.90,109.00L1036.40,109.00L1035.90,109.00L1035.40,109.00L1034.90,109.00L1034.40,109.00L1033.90,109.00L1033.40,109.00L1032.90,109.00L1032.40,109.00L1031.90,109.00L1031.40,109.00L1030.90,109.00L1030.40,109.01L1029.90,109.00L1029.40,109.00L1028.90,109.01L1028.40,109.01L1027.90,109.01L1027.40,109.01L1026.90,109.00L1026.40,109.01L1025.90,109.01L1025.40,109.00L1024.90,109.01L1024.40,109.01L1023.90,109.00L1023.40,109.01L1022.90,109.01L1022.40,109.01L1021.90,109.02L1021.40,109.01L1020.90,109.01L1020.40,109.01L1019.90,109.01L1019.40,109.01L1018.90,109.00L1018.40,109.02L1017.90,109.02L1017.40,109.01L1016.90,109.01L1016.40,109.03L1015.90,109.02L1015.40,109.02L1014.90,109.03L1014.40,109.02L1013.90,109.01L1013.40,109.00L1012.90,109.02L1012.40,109.02L1011.90,109.03L1011.40,109.02L1010.90,109.02L1010.40,109.01L1009.90,109.04L1009.40,109.01L1008.90,109.01L1008.40,109.05L1007.90,109.03L1007.40,109.02L1006.90,109.04L1006.40,109.03L1005.90,109.01L1005.40,109.04L1004.90,109.02L1004.40,109.06L1003.90,109.04L1003.40,109.02L1002.90,109.01L1002.40,109.07L1001.90,109.02L1001.40,109.02L1000.90,109.02L1000.40,109.04L999.90,109.05L999.40,109.05L998.90,109.03L998.40,109.05L997.90,109.10L997.40,109.03L996.90,109.05L996.40,109.02L995.90,109.05L995.40,109.08L994.90,109.04L994.40,109.07L993.90,109.06L993.40,109.06L992.90,109.10L992.40,109.06L991.90,109.04L991.40,109.12L990.90,109.02L990.40,109.12L989.90,109.08L989.40,109.02L988.90,109.04L988.40,109.17L987.90,109.14L987.40,109.03L986.90,109.13L986.40,109.13L985.90,109.14L985.40,109.16L984.90,109.11L984.40,109.03L983.90,109.20L983.40,109.10L982.90,109.03L982.40,109.08L981.90,109.06L981.40,109.10L980.90,109.24L980.40,109.20L979.90,109.10L979.40,109.14L978.90,109.16L978.40,109.24L977.90,109.08L977.40,109.27L976.90,109.18L976.40,109.19L975.90,109.39L975.40,109.30L974.90,109.25L974.40,109.23L973.90,109.43L973.40,109.07L972.90,109.30L972.40,109.35L971.90,109.57L971.40,109.43L970.90,109.14L970.40,109.57L969.90,109.09L969.40,109.29L968.90,109.28L968.40,109.66L967.90,109.60L967.40,109.80L966.90,109.74L966.40,109.50L965.90,109.83L965.40,109.83L964.90,109.26L964.40,109.78L963.90,109.72L963.40,109.49L962.90,110.10L962.40,110.43L961.90,110.28L961.40,109.42L960.90,110.16L960.40,110.46L959.90,109.19L959.40,109.22L958.90,109.86L958.40,110.73L957.90,110.06L957.40,109.81L956.90,110.37L956.40,110.53L955.90,110.08L955.40,109.41L954.90,110.40L954.40,109.51L953.90,109.31L953.40,109.82L952.90,110.81L952.40,111.35L951.90,111.32L951.40,109.28L950.90,109.48L950.40,109.53L949.90,111.34L949.40,110.84L948.90,109.71L948.40,111.04L947.90,110.68L947.40,109.97L946.90,110.93L946.40,111.00L945.90,110.93L945.40,110.09L944.90,109.87L944.40,110.08L943.90,110.37L943.40,109.54L942.90,109.97L942.40,110.11L941.90,109.85L941.40,110.77L940.90,109.87L940.40,110.16L939.90,110.53L939.40,109.79L938.90,110.30L938.40,110.41L937.90,109.98L937.40,109.44L936.90,109.22L936.40,109.67L935.90,109.72L935.40,109.66L934.90,109.84L934.40,109.61L933.90,109.15L933.40,109.60L932.90,109.30L932.40,109.37L931.90,109.10L931.40,109.15L930.90,109.65L930.40,109.30L929.90,109.43L929.40,109.34L928.90,109.46L928.40,109.47L927.90,109.13L927.40,109.12L926.90,109.13L926.40,109.14L925.90,109.20L925.40,109.37L924.90,109.17L924.40,109.37L923.90,109.29L923.40,109.14L922.90,109.24L922.40,109.24L921.90,109.04L921.40,109.04L920.90,109.12L920.40,109.05L919.90,109.04L919.40,109.23L918.90,109.15L918.40,109.12L917.90,109.24L917.40,109.16L916.90,109.10L916.40,109.03L915.90,109.14L915.40,109.15L914.90,109.06L914.40,109.19L913.90,109.13L913.40,109.13L912.90,109.17L912.40,109.14L911.90,109.07L911.40,109.13L910.90,109.04L910.40,109.11L909.90,109.02L909.40,109.03L908.90,109.14L908.40,109.06L907.90,109.05L907.40,109.02L906.90,109.06L906.40,109.06L905.90,109.04L905.40,109.11L904.90,109.10L904.40,109.05L903.90,109.07L903.40,109.08L902.90,109.04L902.40,109.09L901.90,109.08L901.40,109.02L900.90,109.07L900.40,109.05L899.90,109.02L899.40,109.08L898.90,109.03L898.40,109.03L897.90,109.04L897.40,109.04L896.90,109.04L896.40,109.01L895.90,109.02L895.40,109.06L894.90,109.02L894.40,109.04L893.90,109.02L893.40,109.02L892.90,109.03L892.40,109.01L891.90,109.02L891.40,109.01L890.90,109.01L890.40,109.01L889.90,109.04L889.40,109.04L888.90,109.02L888.40,109.03L887.90,109.02L887.40,109.02L886.90,109.01L886.40,109.03L885.90,109.00L885.40,109.03L884.90,109.02L884.40,109.01L883.90,109.03L883.40,109.01L882.90,109.02L882.40,109.01L881.90,109.00L881.40,109.02L880.90,109.01L880.40,109.00L879.90,109.01L879.40,109.01L878.90,109.01L878.40,109.01L877.90,109.01L877.40,109.01L876.90,109.00L876.40,109.01L875.90,109.00L875.40,109.01L874.90,109.01L874.40,109.01L873.90,109.01L873.40,109.01L872.90,109.01L872.40,109.01L871.90,109.00L871.40,109.00L870.90,109.01L870.40,109.00L869.90,109.01L869.40,109.01L868.90,109.00L868.40,109.01L867.90,109.00L867.40,109.00L866.90,109.00L866.40,109.00L865.90,109.00L865.40,109.00L864.90,109.00L864.40,109.00L863.90,109.00L863.40,109.00L862.90,109.00L862.40,109.00L861.90,109.00L861.40,109.00L860.90,109.00L860.40,109.00L859.90,109.00L859.40,109.00L858.90,109.00L858.40,109.00L857.90,109.00L857.40,109.00L856.90,109.00L856.40,109.00L855.90,109.00L855.40,109.00L854.90,109.00L854.40,109.00L853.90,109.00L853.40,109.00L852.90,109.00L852.40,109.00L851.90,109.00L851.40,109.00L850.90,109.00L850.40,109.00L849.90,109.00L849.40,109.00L848.90,109.00L848.40,109.00L847.90,109.00L847.40,109.00L846.90,109.00L846.40,109.00L845.90,109.00L845.40,109.00L844.90,109.00L844.40,109.00L843.90,109.00L843.40,109.00L842.90,109.00L842.40,109.00L841.90,109.00L841.40,109.00L840.90,109.00L840.40,109.00L839.90,109.00L839.40,109.00L838.90,109.00L838.40,109.00L837.90,109.00L837.40,109.00L836.90,109.00L836.40,109.00L835.90,109.00L835.40,109.00L834.90,109.00L834.40,109.00L833.90,109.00L833.40,109.00L832.90,109.00L832.40,109.00L831.90,109.00L831.40,109.00L830.90,109.00L830.40,109.00L829.90,109.00L829.40,109.00L828.90,109.00L828.40,109.00L827.90,109.00L827.40,109.00L826.90,109.00L826.40,109.00L825.90,109.00L825.40,109.00L824.90,109.00L824.40,109.00L823.90,109.00L823.40,109.00L822.90,109.00L822.40,109.00L821.90,109.00L821.40,109.00L820.90,109.00L820.40,109.00L819.90,109.00L819.40,109.00L818.90,109.00L818.40,109.00L817.90,109.00L817.40,109.00L816.90,109.00L816.40,109.00L815.90,109.00L815.40,109.00L814.90,109.00L814.40,109.00L813.90,109.00L813.40,109.00L812.90,109.00L812.40,109.00L811.90,109.00L811.40,109.00L810.90,109.00L810.40,109.00L809.90,109.00L809.40,109.00L808.90,109.00L808.40,109.00L807.90,109.00L807.40,109.00L806.90,109.00L806.40,109.00L805.90,109.00L805.40,109.00L804.90,109.00L804.40,109.00L803.90,109.00L803.40,109.00L802.90,109.00L802.40,109.00L801.90,109.00L801.40,109.00L800.90,109.00L800.40,109.00L799.90,109.00L799.40,109.00L798.90,109.00L798.40,109.00L797.90,109.00L797.40,109.00L796.90,109.00L796.40,109.00L795.90,109.00L795.40,109.00L794.90,109.00L794.40,109.00L793.90,109.00L793.40,109.00L792.90,109.00L792.40,109.00L791.90,109.00L791.40,109.00L790.90,109.00L790.40,109.00L789.90,109.00L789.40,109.00L788.90,109.00L788.40,109.00L787.90,109.00L787.40,109.00L786.90,109.00L786.40,109.00L785.90,109.00L785.40,109.00L784.90,109.00L784.40,109.00L783.90,109.00L783.40,109.00L782.90,109.00L782.40,109.00L781.90,109.00L781.40,109.00L780.90,109.00L780.40,109.00L779.90,109.00L779.40,109.00L778.90,109.00L778.40,109.00L777.90,109.00L777.40,109.00L776.90,109.00L776.40,109.00L775.90,109.00L775.40,109.00L774.90,109.00L774.40,109.00L773.90,109.00L773.40,109.00L772.90,109.00L772.40,109.00L771.90,109.00L771.40,109.00L770.90,109.00L770.40,109.00L769.90,109.00L769.40,109.00L768.90,109.00L768.40,109.00L767.90,109.00L767.40,109.00L766.90,109.00L766.40,109.00L765.90,109.00L765.40,109.00L764.90,109.00L764.40,109.00L763.90,109.00L763.40,109.00L762.90,109.00L762.40,109.00L761.90,109.00L761.40,109.00L760.90,109.00L760.40,109.00L759.90,109.00L759.40,109.00L758.90,109.00L758.40,109.00L757.90,109.00L757.40,109.00L756.90,109.00L756.40,109.00L755.90,109.00L755.40,109.00L754.90,109.00L754.40,109.00L753.90,109.00L753.40,109.00L752.90,109.00L752.40,109.00L751.90,109.00L751.40,109.00L750.90,109.00L750.40,109.00L749.90,109.00L749.40,109.00L748.90,109.00L748.40,109.00L747.90,109.00L747.40,109.00L746.90,109.00L746.40,109.00L745.90,109.00L745.40,109.00L744.90,109.00L744.40,109.00L743.90,109.00L743.40,109.00L742.90,109.00L742.40,109.00L741.90,109.00L741.40,109.00L740.90,109.00L740.40,109.00L739.90,109.00L739.40,109.00L738.90,109.00L738.40,109.00L737.90,109.00L737.40,109.00L736.90,109.00L736.40,109.00L735.90,109.00L735.40,109.00L734.90,109.00L734.40,109.00L733.90,109.00L733.40,109.00L732.90,109.00L732.40,109.00L731.90,109.00L731.40,109.00L730.90,109.00L730.40,109.00L729.90,109.00L729.40,109.00L728.90,109.00L728.40,109.00L727.90,109.00L727.40,109.00L726.90,109.00L726.40,109.00L725.90,109.00L725.40,109.00L724.90,109.00L724.40,109.00L723.90,109.00L723.40,109.00L722.90,109.00L722.40,109.00L721.90,109.00L721.40,109.00L720.90,109.00L720.40,109.00L719.90,109.00L719.40,109.00L718.90,109.00L718.40,109.00L717.90,109.00L717.40,109.00L716.90,109.00L716.40,109.00L715.90,109.00L715.40,109.00L714.90,109.00L714.40,109.00L713.90,109.00L713.40,109.00L712.90,109.00L712.40,109.00L711.90,109.00L711.40,109.00L710.90,109.00L710.40,109.00L709.90,109.00L709.40,109.00L708.90,109.00L708.40,109.00L707.90,109.00L707.40,109.00L706.90,109.00L706.40,109.00L705.90,109.00L705.40,109.00L704.90,109.00L704.40,109.00L703.90,109.00L703.40,109.00L702.90,109.00L702.40,109.00L701.90,109.00L701.40,109.00L700.90,109.00L700.40,109.00L699.90,109.00L699.40,109.00L698.90,109.00L698.40,109.00L697.90,109.00L697.40,109.00L696.90,109.00L696.40,109.00L695.90,109.00L695.40,109.00L694.90,109.00L694.40,109.00L693.90,109.00L693.40,109.00L692.90,109.00L692.40,109.00L691.90,109.00L691.40,109.00L690.90,109.00L690.40,109.00L689.90,109.00L689.40,109.00L688.90,109.00L688.40,109.00L687.90,109.00L687.40,109.00L686.90,109.00L686.40,109.00L685.90,109.00L685.40,109.00L684.90,109.00L684.40,109.00L683.90,109.00L683.40,109.00L682.90,109.00L682.40,109.00L681.90,109.00L681.40,109.00L680.90,109.00L680.40,109.00L679.90,109.00L679.40,109.00L678.90,109.00L678.40,109.00L677.90,109.00L677.40,109.00L676.90,109.00L676.40,109.00L675.90,109.00L675.40,109.00L674.90,109.00L674.40,109.00L673.90,109.00L673.40,109.00L672.90,109.00L672.40,109.00L671.90,109.00L671.40,109.00L670.90,109.00L670.40,109.00L669.90,109.00L669.40,109.00L668.90,109.00L668.40,109.01L667.90,109.00L667.40,109.00L666.90,109.01L666.40,109.00L665.90,109.01L665.40,109.01L664.90,109.01L664.40,109.01L663.90,109.00L663.40,109.01L662.90,109.01L662.40,109.01L661.90,109.01L661.40,109.01L660.90,109.01L660.40,109.01L659.90,109.01L659.40,109.01L658.90,109.01L658.40,109.00L657.90,109.01L657.40,109.01L656.90,109.02L656.40,109.00L655.90,109.00L655.40,109.00L654.90,109.01L654.40,109.01L653.90,109.01L653.40,109.02L652.90,109.02L652.40,109.02L651.90,109.02L651.40,109.02L650.90,109.02L650.40,109.02L649.90,109.02L649.40,109.03L648.90,109.02L648.40,109.01L647.90,109.02L647.40,109.01L646.90,109.01L646.40,109.02L645.90,109.01L645.40,109.01L644.90,109.02L644.40,109.02L643.90,109.02L643.40,109.02L642.90,109.06L642.40,109.03L641.90,109.03L641.40,109.02L640.90,109.02L640.40,109.03L639.90,109.02L639.40,109.07L638.90,109.04L638.40,109.03L637.90,109.07L637.40,109.02L636.90,109.06L636.40,109.06L635.90,109.03L635.40,109.04L634.90,109.02L634.40,109.04L633.90,109.01L633.40,109.03L632.90,109.02L632.40,109.01L631.90,109.11L631.40,109.11L630.90,109.03L630.40,109.10L629.90,109.05L629.40,109.11L628.90,109.11L628.40,109.05L627.90,109.12L627.40,109.12L626.90,109.14L626.40,109.08L625.90,109.05L625.40,109.11L624.90,109.13L624.40,109.02L623.90,109.04L623.40,109.12L622.90,109.17L622.40,109.19L621.90,109.17L621.40,109.06L620.90,109.07L620.40,109.20L619.90,109.15L619.40,109.06L618.90,109.10L618.40,109.16L617.90,109.19L617.40,109.09L616.90,109.13L616.40,109.20L615.90,109.13L615.40,109.11L614.90,109.05L614.40,109.12L613.90,109.10L613.40,109.07L612.90,109.09L612.40,109.36L611.90,109.29L611.40,109.21L610.90,109.17L610.40,109.23L609.90,109.21L609.40,109.28L608.90,109.36L608.40,109.46L607.90,109.40L607.40,109.06L606.90,109.55L606.40,109.39L605.90,109.15L605.40,109.52L604.90,109.69L604.40,109.39L603.90,109.12L603.40,109.75L602.90,109.46L602.40,109.40L601.90,109.11L601.40,109.85L600.90,109.12L600.40,109.69L599.90,109.52L599.40,110.28L598.90,110.08L598.40,109.36L597.90,110.38L597.40,109.69L596.90,109.92L596.40,109.87L595.90,110.51L595.40,109.50L594.90,109.50L594.40,110.08L593.90,110.36L593.40,110.05L592.90,110.47L592.40,110.69L591.90,110.70L591.40,110.59L590.90,110.71L590.40,109.67L589.90,111.23L589.40,109.82L588.90,110.89L588.40,110.90L587.90,111.21L587.40,109.89L586.90,110.37L586.40,109.54L585.90,109.98L585.40,110.32L584.90,110.96L584.40,109.65L583.90,109.25L583.40,109.91L582.90,109.28L582.40,109.77L581.90,110.89L581.40,109.55L580.90,110.59L580.40,109.33L579.90,110.49L579.40,110.77L578.90,110.52L578.40,110.37L577.90,109.23L577.40,110.35L576.90,110.62L576.40,110.41L575.90,109.24L575.40,110.12L574.90,109.81L574.40,109.70L573.90,110.27L573.40,109.34L572.90,110.22L572.40,110.18L571.90,109.25L571.40,109.16L570.90,109.21L570.40,109.99L569.90,109.11L569.40,109.37L568.90,109.55L568.40,109.34L567.90,109.63L567.40,109.16L566.90,109.36L566.40,109.67L565.90,109.46L565.40,109.45L564.90,109.47L564.40,109.30L563.90,109.42L563.40,109.30L562.90,109.47L562.40,109.26L561.90,109.36L561.40,109.24L560.90,109.27L560.40,109.38L559.90,109.18L559.40,109.25L558.90,109.26L558.40,109.17L557.90,109.17L557.40,109.08L556.90,109.13L556.40,109.04L555.90,109.19L555.40,109.04L554.90,109.17L554.40,109.08L553.90,109.06L553.40,109.07L552.90,109.09L552.40,109.05L551.90,109.20L551.40,109.11L550.90,109.08L550.40,109.13L549.90,109.18L549.40,109.06L548.90,109.14L548.40,109.14L547.90,109.11L547.40,109.11L546.90,109.10L546.40,109.11L545.90,109.11L545.40,109.08L544.90,109.04L544.40,109.10L543.90,109.13L543.40,109.04L542.90,109.07L542.40,109.08L541.90,109.10L541.40,109.04L540.90,109.10L540.40,109.09L539.90,109.04L539.40,109.02L538.90,109.03L538.40,109.10L537.90,109.08L537.40,109.03L536.90,109.02L536.40,109.01L535.90,109.01L535.40,109.05L534.90,109.08L534.40,109.04L533.90,109.06L533.40,109.05L532.90,109.03L532.40,109.06L531.90,109.05L531.40,109.06L530.90,109.05L530.40,109.05L529.90,109.01L529.40,109.03L528.90,109.03L528.40,109.03L527.90,109.01L527.40,109.03L526.90,109.01L526.40,109.03L525.90,109.01L525.40,109.04L524.90,109.01L524.40,109.01L523.90,109.02L523.40,109.01L522.90,109.03L522.40,109.02L521.90,109.02L521.40,109.03L520.90,109.02L520.40,109.02L519.90,109.00L519.40,109.02L518.90,109.01L518.40,109.01L517.90,109.02L517.40,109.02L516.90,109.02L516.40,109.02L515.90,109.00L515.40,109.01L514.90,109.01L514.40,109.01L513.90,109.00L513.40,109.01L512.90,109.01L512.40,109.01L511.90,109.01L511.40,109.00L510.90,109.00L510.40,109.01L509.90,109.00L509.40,109.01L508.90,109.01L508.40,109.00L507.90,109.01L507.40,109.00L506.90,109.01L506.40,109.00L505.90,109.01L505.40,109.01L504.90,109.00L504.40,109.00L503.90,109.01L503.40,109.00L502.90,109.00L502.40,109.00L501.90,109.00L501.40,109.00L500.90,109.00L500.40,109.00L499.90,109.00L499.40,109.00L498.90,109.00L498.40,109.00L497.90,109.00L497.40,109.00L496.90,109.00L496.40,109.00L495.90,109.00L495.40,109.00L494.90,109.00L494.40,109.00L493.90,109.00L493.40,109.00L492.90,109.00L492.40,109.00L491.90,109.00L491.40,109.00L490.90,109.00L490.40,109.00L489.90,109.00L489.40,109.00L488.90,109.00L488.40,109.00L487.90,109.00L487.40,109.00L486.90,109.00L486.40,109.00L485.90,109.00L485.40,109.00L484.90,109.00L484.40,109.00L483.90,109.00L483.40,109.00L482.90,109.00L482.40,109.00L481.90,109.00L481.40,109.00L480.90,109.00L480.40,109.00L479.90,109.00L479.40,109.00L478.90,109.00L478.40,109.00L477.90,109.00L477.40,109.00L476.90,109.00L476.40,109.00L475.90,109.00L475.40,109.00L474.90,109.00L474.40,109.00L473.90,109.00L473.40,109.00L472.90,109.00L472.40,109.00L471.90,109.00L471.40,109.00L470.90,109.00L470.40,109.00L469.90,109.00L469.40,109.00L468.90,109.00L468.40,109.00L467.90,109.00L467.40,109.00L466.90,109.00L466.40,109.00L465.90,109.00L465.40,109.00L464.90,109.00L464.40,109.00L463.90,109.00L463.40,109.00L462.90,109.00L462.40,109.00L461.90,109.00L461.40,109.00L460.90,109.00L460.40,109.00L459.90,109.00L459.40,109.00L458.90,109.00L458.40,109.00L457.90,109.00L457.40,109.00L456.90,109.00L456.40,109.00L455.90,109.00L455.40,109.00L454.90,109.00L454.40,109.00L453.90,109.00L453.40,109.00L452.90,109.00L452.40,109.00L451.90,109.00L451.40,109.00L450.90,109.00L450.40,109.00L449.90,109.00L449.40,109.00L448.90,109.00L448.40,109.00L447.90,109.00L447.40,109.00L446.90,109.00L446.40,109.00L445.90,109.00L445.40,109.00L444.90,109.00L444.40,109.00L443.90,109.00L443.40,109.00L442.90,109.00L442.40,109.00L441.90,109.00L441.40,109.00L440.90,109.00L440.40,109.00L439.90,109.00L439.40,109.00L438.90,109.00L438.40,109.00L437.90,109.00L437.40,109.00L436.90,109.00L436.40,109.00L435.90,109.00L435.40,109.00L434.90,109.00L434.40,109.00L433.90,109.00L433.40,109.00L432.90,109.00L432.40,109.00L431.90,109.00L431.40,109.00L430.90,109.00L430.40,109.00L429.90,109.00L429.40,109.00L428.90,109.00L428.40,109.00L427.90,109.00L427.40,109.00L426.90,109.00L426.40,109.00L425.90,109.00L425.40,109.00L424.90,109.00L424.40,109.00L423.90,109.00L423.40,109.00L422.90,109.00L422.40,109.00L421.90,109.00L421.40,109.00L420.90,109.00L420.40,109.00L419.90,109.00L419.40,109.00L418.90,109.00L418.40,109.00L417.90,109.00L417.40,109.00L416.90,109.00L416.40,109.00L415.90,109.00L415.40,109.00L414.90,109.00L414.40,109.00L413.90,109.00L413.40,109.00L412.90,109.00L412.40,109.00L411.90,109.00L411.40,109.00L410.90,109.00L410.40,109.00L409.90,109.00L409.40,109.00L408.90,109.00L408.40,109.00L407.90,109.00L407.40,109.00L406.90,109.00L406.40,109.00L405.90,109.00L405.40,109.00L404.90,109.00L404.40,109.00L403.90,109.00L403.40,109.00L402.90,109.00L402.40,109.00L401.90,109.00L401.40,109.00L400.90,109.00L400.40,109.00L399.90,109.00L399.40,109.00L398.90,109.00L398.40,109.00L397.90,109.00L397.40,109.00L396.90,109.00L396.40,109.00L395.90,109.00L395.40,109.00L394.90,109.00L394.40,109.00L393.90,109.00L393.40,109.00L392.90,109.00L392.40,109.00L391.90,109.00L391.40,109.00L390.90,109.00L390.40,109.00L389.90,109.00L389.40,109.00L388.90,109.00L388.40,109.00L387.90,109.00L387.40,109.00L386.90,109.00L386.40,109.00L385.90,109.00L385.40,109.00L384.90,109.00L384.40,109.00L383.90,109.00L383.40,109.00L382.90,109.00L382.40,109.00L381.90,109.00L381.40,109.00L380.90,109.00L380.40,109.00L379.90,109.00L379.40,109.00L378.90,109.00L378.40,109.00L377.90,109.00L377.40,109.00L376.90,109.00L376.40,109.00L375.90,109.00L375.40,109.00L374.90,109.00L374.40,109.00L373.90,109.00L373.40,109.00L372.90,109.00L372.40,109.00L371.90,109.00L371.40,109.00L370.90,109.00L370.40,109.00L369.90,109.00L369.40,109.00L368.90,109.00L368.40,109.00L367.90,109.00L367.40,109.00L366.90,109.00L366.40,109.00L365.90,109.00L365.40,109.00L364.90,109.00L364.40,109.00L363.90,109.00L363.40,109.00L362.90,109.00L362.40,109.00L361.90,109.00L361.40,109.00L360.90,109.00L360.40,109.00L359.90,109.00L359.40,109.00L358.90,109.00L358.40,109.00L357.90,109.00L357.40,109.00L356.90,109.00L356.40,109.00L355.90,109.00L355.40,109.00L354.90,109.00L354.40,109.00L353.90,109.00L353.40,109.00L352.90,109.00L352.40,109.00L351.90,109.00L351.40,109.00L350.90,109.00L350.40,109.00L349.90,109.00L349.40,109.00L348.90,109.00L348.40,109.00L347.90,109.00L347.40,109.00L346.90,109.00L346.40,109.00L345.90,109.00L345.40,109.00L344.90,109.00L344.40,109.00L343.90,109.00L343.40,109.00L342.90,109.00L342.40,109.00L341.90,109.00L341.40,109.00L340.90,109.00L340.40,109.00L339.90,109.00L339.40,109.00L338.90,109.00L338.40,109.00L337.90,109.00L337.40,109.00L336.90,109.00L336.40,109.00L335.90,109.00L335.40,109.00L334.90,109.00L334.40,109.00L333.90,109.00L333.40,109.00L332.90,109.00L332.40,109.00L331.90,109.00L331.40,109.00L330.90,109.00L330.40,109.00L329.90,109.00L329.40,109.00L328.90,109.00L328.40,109.00L327.90,109.00L327.40,109.00L326.90,109.00L326.40,109.00L325.90,109.00L325.40,109.00L324.90,109.00L324.40,109.00L323.90,109.00L323.40,109.00L322.90,109.00L322.40,109.00L321.90,109.00L321.40,109.00L320.90,109.00L320.40,109.00L319.90,109.00L319.40,109.00L318.90,109.00L318.40,109.00L317.90,109.00L317.40,109.00L316.90,109.00L316.40,109.00L315.90,109.00L315.40,109.00L314.90,109.00L314.40,109.00L313.90,109.00L313.40,109.00L312.90,109.00L312.40,109.00L311.90,109.00L311.40,109.00L310.90,109.00L310.40,109.00L309.90,109.00L309.40,109.00L308.90,109.00L308.40,109.00L307.90,109.00L307.40,109.00L306.90,109.00L306.40,109.00L305.90,109.00L305.40,109.00L304.90,109.00L304.40,109.00L303.90,109.00L303.40,109.00L302.90,109.00L302.40,109.00L301.90,109.00L301.40,109.00L300.90,109.00L300.40,109.00L299.90,109.00L299.40,109.00L298.90,109.00L298.40,109.00L297.90,109.00L297.40,109.00L296.90,109.00L296.40,109.00L295.90,109.00L295.40,109.00L294.90,109.00L294.40,109.00L293.90,109.00L293.40,109.00L292.90,109.00L292.40,109.00L291.90,109.00L291.40,109.00L290.90,109.00L290.40,109.00L289.90,109.00L289.40,109.00L288.90,109.00L288.40,109.00L287.90,109.00L287.40,109.00L286.90,109.00L286.40,109.00L285.90,109.00L285.40,109.00L284.90,109.00L284.40,109.00L283.90,109.00L283.40,109.00L282.90,109.00L282.40,109.00L281.90,109.00L281.40,109.00L280.90,109.00L280.40,109.00L279.90,109.00L279.40,109.00L278.90,109.00L278.40,109.00L277.90,109.00L277.40,109.00L276.90,109.00L276.40,109.00L275.90,109.00L275.40,109.00L274.90,109.00L274.40,109.00L273.90,109.00L273.40,109.00L272.90,109.00L272.40,109.00L271.90,109.00L271.40,109.00L270.90,109.00L270.40,109.00L269.90,109.00L269.40,109.00L268.90,109.00L268.40,109.00L267.90,109.00L267.40,109.00L266.90,109.00L266.40,109.00L265.90,109.00L265.40,109.00L264.90,109.00L264.40,109.00L263.90,109.00L263.40,109.00L262.90,109.00L262.40,109.00L261.90,109.00L261.40,109.00L260.90,109.00L260.40,109.00L259.90,109.00L259.40,109.00L258.90,109.00L258.40,109.00L257.90,109.00L257.40,109.00L256.90,109.00L256.40,109.00L255.90,109.00L255.40,109.00L254.90,109.00L254.40,109.00L253.90,109.00L253.40,109.00L252.90,109.00L252.40,109.00L251.90,109.00L251.40,109.00L250.90,109.00L250.40,109.00L249.90,109.00L249.40,109.00L248.90,109.00L248.40,109.00L247.90,109.00L247.40,109.00L246.90,109.00L246.40,109.00L245.90,109.00L245.40,109.00L244.90,109.00L244.40,109.00L243.90,109.00L243.40,109.00L242.90,109.00L242.40,109.00L241.90,109.00L241.40,109.00L240.90,109.00L240.40,109.00L239.90,109.00L239.40,109.00L238.90,109.00L238.40,109.00L237.90,109.00L237.40,109.00L236.90,109.00L236.40,109.00L235.90,109.00L235.40,109.00L234.90,109.00L234.40,109.00L233.90,109.00L233.40,109.00L232.90,109.00L232.40,109.00L231.90,109.00L231.40,109.00L230.90,109.00L230.40,109.00L229.90,109.00L229.40,109.00L228.90,109.00L228.40,109.00L227.90,109.00L227.40,109.00L226.90,109.00L226.40,109.00L225.90,109.00L225.40,109.00L224.90,109.00L224.40,109.00L223.90,109.00L223.40,109.00L222.90,109.00L222.40,109.00L221.90,109.00L221.40,109.00L220.90,109.00L220.40,109.00L219.90,109.00L219.40,109.00L218.90,109.00L218.40,109.00L217.90,109.00L217.40,109.00L216.90,109.00L216.40,109.00L215.90,109.00L215.40,109.00L214.90,109.00L214.40,109.00L213.90,109.00L213.40,109.00L212.90,109.00L212.40,109.00L211.90,109.00L211.40,109.00L210.90,109.00L210.40,109.00L209.90,109.00L209.40,109.00L208.90,109.00L208.40,109.00L207.90,109.00L207.40,109.00L206.90,109.00L206.40,109.00L205.90,109.00L205.40,109.00L204.90,109.00L204.40,109.00L203.90,109.00L203.40,109.00L202.90,109.00L202.40,109.00L201.90,109.00L201.40,109.00L200.90,109.00L200.40,109.00L199.90,109.00L199.40,109.00L198.90,109.00L198.40,109.00L197.90,109.00L197.40,109.00L196.90,109.00L196.40,109.00L195.90,109.00L195.40,109.00L194.90,109.00L194.40,109.00L193.90,109.00L193.40,109.00L192.90,109.00L192.40,109.00L191.90,109.00L191.40,109.00L190.90,109.00L190.40,109.00L189.90,109.00L189.40,109.00L188.90,109.00L188.40,109.00L187.90,109.00L187.40,109.00L186.90,109.00L186.40,109.00L185.90,109.00L185.40,109.00L184.90,109.00L184.40,109.00L183.90,109.00L183.40,109.00L182.90,109.00L182.40,109.00L181.90,109.00L181.40,109.00L180.90,109.00L180.40,109.00L179.90,109.00L179.40,109.00L178.90,109.00L178.40,109.00L177.90,109.00L177.40,109.00L176.90,109.00L176.40,109.00L175.90,109.00L175.40,109.00L174.90,109.00L174.40,109.00L173.90,109.00L173.40,109.00L172.90,109.00L172.40,109.00L171.90,109.00L171.40,109.00L170.90,109.00L170.40,109.00L169.90,109.00L169.40,109.00L168.90,109.00L168.40,109.00L167.90,109.00L167.40,109.00L166.90,109.00L166.40,109.00L165.90,109.00L165.40,109.00L164.90,109.00L164.40,109.00L163.90,109.00L163.40,109.00L162.90,109.00L162.40,109.00L161.90,109.00L161.40,109.00L160.90,109.00L160.40,109.00L159.90,109.00L159.40,109.00L158.90,109.00L158.40,109.00L157.90,109.00L157.40,109.00L156.90,109.00L156.40,109.00L155.90,109.00L155.40,109.00L154.90,109.00L154.40,109.00L153.90,109.00L153.40,109.00L152.90,109.00L152.40,109.00L151.90,109.00L151.40,109.00L150.90,109.00L150.40,109.00L149.90,109.00L149.40,109.00L148.90,109.00L148.40,109.00L147.90,109.00L147.40,109.00L146.90,109.00L146.40,109.00L145.90,109.00L145.40,109.00L144.90,109.00L144.40,109.00L143.90,109.00L143.40,109.00L142.90,109.00L142.40,109.00L141.90,109.00L141.40,109.00L140.90,109.00L140.40,109.00L139.90,109.00L139.40,109.00L138.90,109.00L138.40,109.00L137.90,109.00L137.40,109.00L136.90,109.00L136.40,109.00L135.90,109.00L135.40,109.00L134.90,109.00L134.40,109.00L133.90,109.00L133.40,109.00L132.90,109.00L132.40,109.00L131.90,109.00L131.40,109.00L130.90,109.00L130.40,109.00L129.90,109.00L129.40,109.00L128.90,109.00L128.40,109.00L127.90,109.00L127.40,109.00L126.90,109.00L126.40,109.00L125.90,109.00L125.40,109.00L124.90,109.00L124.40,109.00L123.90,109.00L123.40,109.00L122.90,109.00L122.40,109.00L121.90,109.00L121.40,109.00L120.90,109.00L120.40,109.00L119.90,109.00L119.40,109.00L118.90,109.00L118.40,109.00L117.90,109.00L117.40,109.00L116.90,109.00L116.40,109.00L115.90,109.00L115.40,109.00Z" fill="#1f77b4"/>
<path d="M115.90 105.45H1174.22" stroke="#1f77b4" stroke-width="1.05" stroke-dasharray="1.35 0.75" fill="none"/>
<path d="M116.40,593.09L116.90,593.09L117.40,593.09L117.90,593.10L118.40,593.13L118.90,593.12L119.40,593.13L119.90,593.13L120.40,593.18L120.90,593.19L121.40,593.07L121.90,593.07L122.40,593.05L122.90,593.05L123.40,593.02L123.90,593.02L124.40,593.15L124.90,593.14L125.40,593.11L125.90,593.12L126.40,593.16L126.90,593.14L127.40,593.08L127.90,593.08L128.40,593.06L128.90,593.07L129.40,593.16L129.90,593.16L130.40,593.16L130.90,593.15L131.40,593.04L131.90,593.05L132.40,593.09L132.90,593.09L133.40,593.17L133.90,593.16L134.40,593.13L134.90,593.13L135.40,593.12L135.90,593.12L136.40,593.07L136.90,593.07L137.40,593.05L137.90,593.05L138.40,593.06L138.90,593.05L139.40,593.16L139.90,593.18L140.40,593.17L140.90,593.18L141.40,593.08L141.90,593.09L142.40,593.07L142.90,593.08L143.40,593.17L143.90,593.18L144.40,593.10L144.90,593.11L145.40,593.06L145.90,593.06L146.40,593.07L146.90,593.06L147.40,593.05L147.90,593.05L148.40,593.09L148.90,593.11L149.40,593.11L149.90,593.12L150.40,593.08L150.90,593.09L151.40,593.07L151.90,593.07L152.40,593.14L152.90,593.14L153.40,593.08L153.90,593.07L154.40,593.14L154.90,593.14L155.40,593.03L155.90,593.02L156.40,593.15L156.90,593.15L157.40,593.06L157.90,593.06L158.40,593.04L158.90,593.05L159.40,593.07L159.90,593.06L160.40,593.08L160.90,593.09L161.40,593.04L161.90,593.05L162.40,593.18L162.90,593.18L163.40,593.13L163.90,593.13L164.40,593.03L164.90,593.04L165.40,593.10L165.90,593.11L166.40,593.13L166.90,593.13L167.40,593.14L167.90,593.15L168.40,593.15L168.90,593.14L169.40,593.19L169.90,593.18L170.40,593.08L170.90,593.08L171.40,593.18L171.90,593.19L172.40,593.07L172.90,593.07L173.40,593.18L173.90,593.19L174.40,593.16L174.90,593.16L175.40,593.12L175.90,593.11L176.40,593.17L176.90,593.17L177.40,593.18L177.90,593.18L178.40,593.03L178.90,593.04L179.40,593.04L179.90,593.04L180.40,593.09L180.90,593.08L181.40,593.08L181.90,593.07L182.40,593.16L182.90,593.17L183.40,593.18L183.90,593.18L184.40,593.15L184.90,593.16L185.40,593.11L185.90,593.11L186.40,593.07L186.90,593.06L187.40,593.12L187.90,593.12L188.40,593.12L188.90,593.13L189.40,593.18L189.90,593.18L190.40,593.16L190.90,593.17L191.40,593.12L191.90,593.11L192.40,593.15L192.90,593.15L193.40,593.12L193.90,593.11L194.40,593.08L194.90,593.10L195.40,593.15L195.90,593.14L196.40,593.04L196.90,593.03L197.40,593.11L197.90,593.10L198.40,593.02L198.90,593.03L199.40,593.12L199.90,593.12L200.40,593.10L200.90,593.09L201.40,593.03L201.90,593.03L202.40,593.13L202.90,593.13L203.40,593.07L203.90,593.08L204.40,593.07L204.90,593.06L205.40,593.15L205.90,593.15L206.40,593.13L206.90,593.13L207.40,593.13L207.90,593.12L208.40,593.17L208.90,593.16L209.40,593.15L209.90,593.14L210.40,593.14L210.90,593.14L211.40,593.06L211.90,593.06L212.40,593.03L212.90,593.03L213.40,593.19L213.90,593.19L214.40,593.08L214.90,593.09L215.40,593.08L215.90,593.08L216.40,593.14L216.90,593.14L217.40,593.06L217.90,593.06L218.40,593.12L218.90,593.12L219.40,593.17L219.90,593.18L220.40,593.18L220.90,593.18L221.40,593.09L221.90,593.07L222.40,593.03L222.90,593.02L223.40,593.10L223.90,593.11L224.40,593.03L224.90,593.04L225.40,593.16L225.90,593.16L226.40,593.15L226.90,593.16L227.40,593.05L227.90,593.05L228.40,593.13L228.90,593.14L229.40,593.07L229.90,593.08L230.40,593.09L230.90,593.09L231.40,593.13L231.90,593.12L232.40,593.08L232.90,593.07L233.40,593.09L233.90,593.08L234.40,593.02L234.90,593.02L235.40,593.05L235.90,593.04L236.40,593.07L236.90,593.08L237.40,593.13L237.90,593.13L238.40,593.08L238.90,593.09L239.40,593.14L239.90,593.14L240.40,593.04L240.90,593.03L241.40,593.08L241.90,593.08L242.40,593.16L242.90,593.16L243.40,593.06L243.90,593.05L244.40,593.07L244.90,593.07L245.40,593.04L245.90,593.03L246.40,593.02L246.90,593.03L247.40,593.11L247.90,593.11L248.40,593.16L248.90,593.17L249.40,593.16L249.90,593.17L250.40,593.18L250.90,593.19L251.40,593.16L251.90,593.16L252.40,593.06L252.90,593.07L253.40,593.19L253.90,593.19L254.40,593.12L254.90,593.12L255.40,593.07L255.90,593.07L256.40,593.17L256.90,593.16L257.40,593.09L257.90,593.09L258.40,593.09L258.90,593.08L259.40,593.09L259.90,593.10L260.40,593.19L260.90,593.19L261.40,593.08L261.90,593.08L262.40,593.18L262.90,593.18L263.40,593.18L263.90,593.18L264.40,593.05L264.90,593.04L265.40,593.05L265.90,593.05L266.40,593.04L266.90,593.04L267.40,593.18L267.90,593.16L268.40,593.15L268.90,593.13L269.40,593.15L269.90,593.16L270.40,593.14L270.90,593.14L271.40,593.17L271.90,593.17L272.40,593.10L272.90,593.09L273.40,593.06L273.90,593.05L274.40,593.04L274.90,593.02L275.40,593.06L275.90,593.05L276.40,593.12L276.90,593.11L277.40,593.13L277.90,593.13L278.40,593.13L278.90,593.14L279.40,593.09L279.90,593.08L280.40,593.09L280.90,593.07L281.40,593.13L281.90,593.13L282.40,593.09L282.90,593.08L283.40,593.17L283.90,593.17L284.40,593.18L284.90,593.18L285.40,593.05L285.90,593.06L286.40,593.15L286.90,593.15L287.40,593.05L287.90,593.05L288.40,593.04L288.90,593.04L289.40,593.15L289.90,593.15L290.40,593.14L290.90,593.14L291.40,593.09L291.90,593.09L292.40,593.14L292.90,593.14L293.40,593.17L293.90,593.18L294.40,593.10L294.90,593.10L295.40,593.16L295.90,593.17L296.40,593.09L296.90,593.09L297.40,593.15L297.90,593.15L298.40,593.08L298.90,593.08L299.40,593.06L299.90,593.05L300.40,593.15L300.90,593.16L301.40,593.03L301.90,593.04L302.40,593.06L302.90,593.08L303.40,593.08L303.90,593.07L304.40,593.08L304.90,593.08L305.40,593.14L305.90,593.13L306.40,593.18L306.90,593.18L307.40,593.06L307.90,593.06L308.40,593.12L308.90,593.12L309.40,593.03L309.90,593.03L310.40,593.14L310.90,593.14L311.40,593.06L311.90,593.05L312.40,593.06L312.90,593.06L313.40,593.06L313.90,593.05L314.40,593.07L314.90,593.07L315.40,593.12L315.90,593.13L316.40,593.02L316.90,593.02L317.40,593.12L317.90,593.13L318.40,593.12L318.90,593.13L319.40,593.03L319.90,593.03L320.40,593.02L320.90,593.02L321.40,593.09L321.90,593.09L322.40,593.17L322.90,593.17L323.40,593.07L323.90,593.07L324.40,593.02L324.90,593.02L325.40,593.00L325.90,593.00L326.40,593.12L326.90,593.11L327.40,593.03L327.90,593.03L328.40,593.04L328.90,593.04L329.40,593.01L329.90,593.02L330.40,593.02L330.90,593.02L331.40,593.05L331.90,593.05L332.40,593.08L332.90,593.07L333.40,593.09L333.90,593.08L334.40,593.04L334.90,593.03L335.40,593.10L335.90,593.11L336.40,593.05L336.90,593.05L337.40,593.12L337.90,593.12L338.40,593.09L338.90,593.08L339.40,593.12L339.90,593.14L340.40,593.12L340.90,593.13L341.40,593.12L341.90,593.11L342.40,593.12L342.90,593.12L343.40,593.11L343.90,593.09L344.40,593.10L344.90,593.10L345.40,592.97L345.90,592.99L346.40,593.04L346.90,593.02L347.40,593.12L347.90,593.11L348.40,593.08L348.90,593.08L349.40,592.98L349.90,592.98L350.40,593.01L350.90,593.00L351.40,593.06L351.90,593.06L352.40,593.11L352.90,593.10L353.40,593.03L353.90,593.04L354.40,593.04L354.90,593.03L355.40,593.04L355.90,593.04L356.40,592.93L356.90,592.93L357.40,592.95L357.90,592.95L358.40,592.95L358.90,592.94L359.40,592.97L359.90,592.98L360.40,592.93L360.90,592.92L361.40,592.92L361.90,592.92L362.40,592.97L362.90,592.97L363.40,592.99L363.90,593.00L364.40,593.01L364.90,593.01L365.40,592.96L365.90,592.95L366.40,593.00L366.90,593.01L367.40,593.01L367.90,593.01L368.40,592.90L368.90,592.89L369.40,593.01L369.90,593.01L370.40,592.98L370.90,592.98L371.40,592.87L371.90,592.86L372.40,592.89L372.90,592.90L373.40,592.91L373.90,592.90L374.40,592.99L374.90,592.99L375.40,592.98L375.90,592.97L376.40,592.98L376.90,592.97L377.40,592.96L377.90,592.96L378.40,592.95L378.90,592.95L379.40,592.95L379.90,592.95L380.40,592.95L380.90,592.94L381.40,592.81L381.90,592.81L382.40,592.78L382.90,592.79L383.40,592.84L383.90,592.83L384.40,592.82L384.90,592.80L385.40,592.88L385.90,592.88L386.40,592.84L386.90,592.84L387.40,592.84L387.90,592.84L388.40,592.79L388.90,592.80L389.40,592.85L389.90,592.86L390.40,592.85L390.90,592.83L391.40,592.86L391.90,592.84L392.40,592.76L392.90,592.75L393.40,592.70L393.90,592.69L394.40,592.74L394.90,592.73L395.40,592.80L395.90,592.80L396.40,592.79L396.90,592.78L397.40,592.71L397.90,592.71L398.40,592.71L398.90,592.70L399.40,592.73L399.90,592.73L400.40,592.79L400.90,592.77L401.40,592.74L401.90,592.73L402.40,592.71L402.90,592.71L403.40,592.65L403.90,592.63L404.40,592.61L404.90,592.60L405.40,592.59L405.90,592.57L406.40,592.57L406.90,592.55L407.40,592.64L407.90,592.64L408.40,592.53L408.90,592.53L409.40,592.62L409.90,592.62L410.40,592.60L410.90,592.59L411.40,592.58L411.90,592.57L412.40,592.56L412.90,592.56L413.40,592.52L413.90,592.50L414.40,592.44L414.90,592.44L415.40,592.52L415.90,592.51L416.40,592.49L416.90,592.47L417.40,592.39L417.90,592.39L418.40,592.40L418.90,592.39L419.40,592.29L419.90,592.29L420.40,592.43L420.90,592.42L421.40,592.39L421.90,592.39L422.40,592.30L422.90,592.30L423.40,592.33L423.90,592.33L424.40,592.22L424.90,592.19L425.40,592.22L425.90,592.21L426.40,592.19L426.90,592.17L427.40,592.14L427.90,592.13L428.40,592.09L428.90,592.07L429.40,592.09L429.90,592.07L430.40,592.08L430.90,592.08L431.40,591.99L431.90,591.97L432.40,592.03L432.90,592.02L433.40,591.96L433.90,591.95L434.40,591.88L434.90,591.86L435.40,591.86L435.90,591.84L436.40,591.77L436.90,591.73L437.40,591.72L437.90,591.69L438.40,591.66L438.90,591.62L439.40,591.62L439.90,591.60L440.40,591.63L440.90,591.59L441.40,591.55L441.90,591.50L442.40,591.44L442.90,591.42L443.40,591.35L443.90,591.29L444.40,591.27L444.90,591.25L445.40,591.23L445.90,591.20L446.40,591.16L446.90,591.13L447.40,591.21L447.90,591.16L448.40,591.07L448.90,591.03L449.40,590.89L449.90,590.82L450.40,590.85L450.90,590.77L451.40,590.74L451.90,590.69L452.40,590.62L452.90,590.55L453.40,590.62L453.90,590.57L454.40,590.56L454.90,590.50L455.40,590.34L455.90,590.29L456.40,590.28L456.90,590.20L457.40,590.13L457.90,590.07L458.40,590.08L458.90,589.99L459.40,589.90L459.90,589.86L460.40,589.70L460.90,589.60L461.40,589.49L461.90,589.42L462.40,589.49L462.90,589.44L463.40,589.25L463.90,589.19L464.40,589.15L464.90,589.04L465.40,588.92L465.90,588.83L466.40,588.82L466.90,588.70L467.40,588.47L467.90,588.37L468.40,588.36L468.90,588.26L469.40,588.10L469.90,588.00L470.40,587.93L470.90,587.84L471.40,587.67L471.90,587.52L472.40,587.42L472.90,587.29L473.40,587.21L473.90,587.08L474.40,587.03L474.90,586.89L475.40,586.76L475.90,586.58L476.40,586.38L476.90,586.26L477.40,586.00L477.90,585.85L478.40,585.70L478.90,585.56L479.40,585.36L479.90,585.23L480.40,585.12L480.90,584.94L481.40,584.67L481.90,584.50L482.40,584.24L482.90,584.06L483.40,583.87L483.90,583.63L484.40,583.38L484.90,583.19L485.40,583.02L485.90,582.84L486.40,582.48L486.90,582.26L487.40,582.13L487.90,581.96L488.40,581.58L488.90,581.28L489.40,580.99L489.90,580.71L490.40,580.40L490.90,580.13L491.40,579.79L491.90,579.43L492.40,579.20L492.90,578.93L493.40,578.58L493.90,578.23L494.40,577.97L494.90,577.72L495.40,577.36L495.90,576.91L496.40,576.67L496.90,576.25L497.40,575.72L497.90,575.31L498.40,575.17L498.90,574.67L499.40,574.30L499.90,573.96L500.40,573.31L500.90,572.96L501.40,572.51L501.90,572.11L502.40,571.62L502.90,571.14L503.40,570.60L503.90,570.00L504.40,569.88L504.90,569.36L505.40,568.79L505.90,568.28L506.40,567.53L506.90,567.03L507.40,566.59L507.90,566.00L508.40,565.06L508.90,564.53L509.40,563.91L509.90,563.24L510.40,562.86L510.90,562.17L511.40,561.31L511.90,560.66L512.40,560.16L512.90,559.40L513.40,558.65L513.90,558.01L514.40,557.29L514.90,556.56L515.40,555.52L515.90,554.75L516.40,554.26L516.90,553.40L517.40,552.26L517.90,551.46L518.40,550.83L518.90,550.08L519.40,549.25L519.90,548.25L520.40,546.95L520.90,545.99L521.40,545.52L521.90,544.64L522.40,543.59L522.90,542.64L523.40,541.38L523.90,540.36L524.40,539.02L524.90,538.08L525.40,537.06L525.90,535.96L526.40,534.93L526.90,533.93L527.40,533.17L527.90,532.16L528.40,530.90L528.90,529.72L529.40,527.96L529.90,526.75L530.40,525.52L530.90,524.41L531.40,522.93L531.90,521.57L532.40,520.88L532.90,519.50L533.40,518.09L533.90,516.76L534.40,515.65L534.90,514.23L535.40,513.29L535.90,511.89L536.40,509.94L536.90,508.51L537.40,507.14L537.90,505.45L538.40,504.90L538.90,503.37L539.40,501.26L539.90,499.91L540.40,498.20L540.90,496.69L541.40,495.26L541.90,493.79L542.40,492.76L542.90,491.26L543.40,490.21L543.90,488.43L544.40,486.59L544.90,485.19L545.40,483.93L545.90,482.11L546.40,480.46L546.90,478.90L547.40,477.27L547.90,475.47L548.40,474.02L548.90,472.62L549.40,471.49L549.90,469.93L550.40,468.15L550.90,466.50L551.40,465.01L551.90,463.87L552.40,461.13L552.90,459.61L553.40,458.47L553.90,456.65L554.40,455.01L554.90,453.61L555.40,453.23L555.90,451.64L556.40,449.48L556.90,448.17L557.40,447.91L557.90,446.20L558.40,444.79L558.90,443.56L559.40,442.14L559.90,440.98L560.40,439.71L560.90,438.65L561.40,437.05L561.90,436.31L562.40,434.08L562.90,432.97L563.40,432.40L563.90,431.39L564.40,429.70L564.90,429.09L565.40,428.23L565.90,427.62L566.40,425.79L566.90,425.30L567.40,424.61L567.90,423.30L568.40,422.75L568.90,421.62L569.40,421.39L569.90,421.16L570.40,419.84L570.90,419.06L571.40,418.33L571.90,417.79L572.40,418.10L572.90,417.54L573.40,416.72L573.90,416.89L574.40,415.83L574.90,415.55L575.40,415.50L575.90,414.87L576.40,414.73L576.90,414.64L577.40,415.40L577.90,415.33L578.40,414.91L578.90,415.04L579.40,414.48L579.90,414.24L580.40,414.94L580.90,414.70L581.40,415.00L581.90,415.29L582.40,416.01L582.90,415.34L583.40,416.01L583.90,416.08L584.40,417.08L584.90,418.63L585.40,417.95L585.90,418.69L586.40,419.56L586.90,421.06L587.40,420.89L587.90,421.73L588.40,423.25L588.90,424.37L589.40,424.98L589.90,426.54L590.40,427.24L590.90,428.54L591.40,428.73L591.90,429.85L592.40,430.24L592.90,431.32L593.40,432.76L593.90,434.15L594.40,435.99L594.90,437.30L595.40,438.70L595.90,439.84L596.40,439.63L596.90,441.23L597.40,443.13L597.90,444.68L598.40,445.47L598.90,446.81L599.40,448.34L599.90,449.93L600.40,451.11L600.90,452.83L601.40,454.02L601.90,455.39L602.40,457.58L602.90,459.14L603.40,460.73L603.90,462.22L604.40,464.18L604.90,465.76L605.40,465.79L605.90,467.63L606.40,470.43L606.90,471.90L607.40,472.41L607.90,473.68L608.40,476.46L608.90,477.88L609.40,478.85L609.90,480.52L610.40,481.49L610.90,483.04L611.40,485.23L611.90,486.55L612.40,488.13L612.90,489.79L613.40,491.33L613.90,492.72L614.40,494.89L614.90,496.26L615.40,496.79L615.90,498.29L616.40,500.16L616.90,501.44L617.40,502.72L617.90,504.13L618.40,505.67L618.90,507.18L619.40,509.11L619.90,510.59L620.40,511.32L620.90,512.81L621.40,514.45L621.90,515.73L622.40,517.37L622.90,518.55L623.40,519.69L623.90,520.85L624.40,521.99L624.90,523.23L625.40,525.20L625.90,526.33L626.40,527.08L626.90,528.33L627.40,529.70L627.90,530.78L628.40,532.00L628.90,533.03L629.40,534.11L629.90,535.15L630.40,536.55L630.90,537.70L631.40,538.90L631.90,539.93L632.40,540.89L632.90,541.93L633.40,542.72L633.90,543.67L634.40,544.53L634.90,545.39L635.40,546.43L635.90,547.38L636.40,548.12L636.90,549.10L637.40,550.18L637.90,551.16L638.40,552.09L638.90,552.91L639.40,553.46L639.90,554.21L640.40,555.05L640.90,555.78L641.40,556.62L641.90,557.33L642.40,558.30L642.90,559.07L643.40,559.63L643.90,560.27L644.40,560.81L644.90,561.48L645.40,562.31L645.90,563.02L646.40,563.48L646.90,564.11L647.40,564.92L647.90,565.48L648.40,565.96L648.90,566.47L649.40,567.18L649.90,567.67L650.40,568.35L650.90,568.85L651.40,569.38L651.90,569.85L652.40,570.35L652.90,570.95L653.40,571.18L653.90,571.70L654.40,572.01L654.90,572.55L655.40,573.00L655.90,573.41L656.40,573.88L656.90,574.30L657.40,574.85L657.90,575.33L658.40,575.49L658.90,575.90L659.40,576.17L659.90,576.53L660.40,577.08L660.90,577.44L661.40,577.68L661.90,578.01L662.40,578.37L662.90,578.68L663.40,578.98L663.90,579.34L664.40,579.76L664.90,580.09L665.40,580.23L665.90,580.54L666.40,580.83L666.90,581.11L667.40,581.28L667.90,581.57L668.40,581.97L668.90,582.21L669.40,582.39L669.90,582.62L670.40,582.87L670.90,583.12L671.40,583.22L671.90,583.44L672.40,583.59L672.90,583.84L673.40,584.06L673.90,584.23L674.40,584.49L674.90,584.71L675.40,584.88L675.90,585.08L676.40,585.20L676.90,585.38L677.40,585.62L677.90,585.77L678.40,585.98L678.90,586.17L679.40,586.16L679.90,586.28L680.40,586.48L680.90,586.65L681.40,586.73L681.90,586.90L682.40,587.08L682.90,587.17L683.40,587.35L683.90,587.49L684.40,587.64L684.90,587.77L685.40,587.77L685.90,587.89L686.40,588.01L686.90,588.11L687.40,588.34L687.90,588.43L688.40,588.49L688.90,588.63L689.40,588.57L689.90,588.66L690.40,588.78L690.90,588.88L691.40,589.04L691.90,589.15L692.40,589.20L692.90,589.29L693.40,589.32L693.90,589.38L694.40,589.44L694.90,589.48L695.40,589.69L695.90,589.79L696.40,589.74L696.90,589.83L697.40,589.90L697.90,589.97L698.40,590.01L698.90,590.06L699.40,590.21L699.90,590.30L700.40,590.30L700.90,590.35L701.40,590.34L701.90,590.41L702.40,590.51L702.90,590.58L703.40,590.58L703.90,590.62L704.40,590.71L704.90,590.74L705.40,590.78L705.90,590.81L706.40,590.79L706.90,590.86L707.40,590.91L707.90,590.94L708.40,591.08L708.90,591.13L709.40,591.06L709.90,591.11L710.40,591.23L710.90,591.29L711.40,591.26L711.90,591.30L712.40,591.25L712.90,591.31L713.40,591.32L713.90,591.33L714.40,591.33L714.90,591.37L715.40,591.52L715.90,591.53L716.40,591.54L716.90,591.56L717.40,591.57L717.90,591.58L718.40,591.57L718.90,591.61L719.40,591.61L719.90,591.63L720.40,591.76L720.90,591.77L721.40,591.82L721.90,591.85L722.40,591.83L722.90,591.87L723.40,591.80L723.90,591.81L724.40,591.95L724.90,591.96L725.40,591.95L725.90,591.98L726.40,591.88L726.90,591.89L727.40,591.90L727.90,591.92L728.40,592.00L728.90,592.03L729.40,591.98L729.90,591.98L730.40,592.06L730.90,592.09L731.40,592.13L731.90,592.13L732.40,592.09L732.90,592.09L733.40,592.19L733.90,592.20L734.40,592.15L734.90,592.16L735.40,592.13L735.90,592.14L736.40,592.11L736.90,592.11L737.40,592.14L737.90,592.14L738.40,592.26L738.90,592.27L739.40,592.25L739.90,592.26L740.40,592.31L740.90,592.32L741.40,592.33L741.90,592.35L742.40,592.20L742.90,592.19L743.40,592.34L743.90,592.34L744.40,592.31L744.90,592.31L745.40,592.27L745.90,592.27L746.40,592.35L746.90,592.36L747.40,592.33L747.90,592.33L748.40,592.40L748.90,592.40L749.40,592.29L749.90,592.29L750.40,592.37L750.90,592.36L751.40,592.41L751.90,592.41L752.40,592.40L752.90,592.40L753.40,592.33L753.90,592.34L754.40,592.38L754.90,592.37L755.40,592.39L755.90,592.40L756.40,592.41L756.90,592.40L757.40,592.39L757.90,592.40L758.40,592.37L758.90,592.38L759.40,592.39L759.90,592.39L760.40,592.34L760.90,592.34L761.40,592.39L761.90,592.40L762.40,592.43L762.90,592.43L763.40,592.43L763.90,592.43L764.40,592.38L764.90,592.37L765.40,592.27L765.90,592.26L766.40,592.37L766.90,592.35L767.40,592.36L767.90,592.37L768.40,592.43L768.90,592.42L769.40,592.34L769.90,592.33L770.40,592.40L770.90,592.39L771.40,592.35L771.90,592.35L772.40,592.35L772.90,592.34L773.40,592.32L773.90,592.33L774.40,592.34L774.90,592.34L775.40,592.33L775.90,592.33L776.40,592.34L776.90,592.35L777.40,592.26L777.90,592.26L778.40,592.27L778.90,592.26L779.40,592.16L779.90,592.17L780.40,592.17L780.90,592.15L781.40,592.19L781.90,592.20L782.40,592.11L782.90,592.11L783.40,592.18L783.90,592.17L784.40,592.20L784.90,592.19L785.40,592.06L785.90,592.05L786.40,592.01L786.90,592.01L787.40,592.13L787.90,592.13L788.40,592.06L788.90,592.04L789.40,592.10L789.90,592.09L790.40,591.97L790.90,591.94L791.40,591.91L791.90,591.89L792.40,591.99L792.90,591.97L793.40,591.87L793.90,591.85L794.40,591.85L794.90,591.83L795.40,591.88L795.90,591.86L796.40,591.84L796.90,591.81L797.40,591.81L797.90,591.79L798.40,591.77L798.90,591.73L799.40,591.65L799.90,591.64L800.40,591.69L800.90,591.68L801.40,591.51L801.90,591.48L802.40,591.54L802.90,591.51L803.40,591.49L803.90,591.44L804.40,591.37L804.90,591.35L805.40,591.43L805.90,591.38L806.40,591.35L806.90,591.31L807.40,591.20L807.90,591.16L808.40,591.13L808.90,591.11L809.40,591.10L809.90,591.04L810.40,590.97L810.90,590.92L811.40,590.90L811.90,590.87L812.40,590.80L812.90,590.77L813.40,590.71L813.90,590.65L814.40,590.64L814.90,590.60L815.40,590.52L815.90,590.47L816.40,590.48L816.90,590.43L817.40,590.31L817.90,590.25L818.40,590.23L818.90,590.18L819.40,590.24L819.90,590.18L820.40,590.05L820.90,589.98L821.40,589.84L821.90,589.79L822.40,589.80L822.90,589.73L823.40,589.67L823.90,589.59L824.40,589.52L824.90,589.43L825.40,589.29L825.90,589.21L826.40,589.19L826.90,589.15L827.40,589.07L827.90,589.00L828.40,588.83L828.90,588.70L829.40,588.56L829.90,588.48L830.40,588.43L830.90,588.33L831.40,588.35L831.90,588.25L832.40,588.16L832.90,588.00L833.40,587.86L833.90,587.78L834.40,587.57L834.90,587.46L835.40,587.26L835.90,587.17L836.40,587.08L836.90,586.91L837.40,586.94L837.90,586.81L838.40,586.56L838.90,586.41L839.40,586.23L839.90,586.09L840.40,585.98L840.90,585.81L841.40,585.74L841.90,585.58L842.40,585.31L842.90,585.14L843.40,584.97L843.90,584.84L844.40,584.63L844.90,584.48L845.40,584.36L845.90,584.15L846.40,583.86L846.90,583.66L847.40,583.34L847.90,583.17L848.40,583.03L848.90,582.82L849.40,582.51L849.90,582.22L850.40,582.10L850.90,581.78L851.40,581.57L851.90,581.36L852.40,580.96L852.90,580.65L853.40,580.36L853.90,580.07L854.40,579.83L854.90,579.61L855.40,579.22L855.90,578.92L856.40,578.74L856.90,578.45L857.40,577.96L857.90,577.61L858.40,577.26L858.90,576.89L859.40,576.67L859.90,576.27L860.40,575.84L860.90,575.57L861.40,575.30L861.90,574.89L862.40,574.60L862.90,574.14L863.40,573.50L863.90,573.08L864.40,572.78L864.90,572.35L865.40,571.95L865.90,571.43L866.40,570.82L866.90,570.34L867.40,570.05L867.90,569.58L868.40,568.92L868.90,568.40L869.40,567.83L869.90,567.27L870.40,566.74L870.90,566.12L871.40,565.76L871.90,565.24L872.40,564.55L872.90,563.99L873.40,563.05L873.90,562.39L874.40,561.83L874.90,561.13L875.40,560.49L875.90,559.81L876.40,559.18L876.90,558.57L877.40,557.86L877.90,557.08L878.40,556.19L878.90,555.38L879.40,554.90L879.90,554.02L880.40,552.94L880.90,552.15L881.40,551.48L881.90,550.70L882.40,550.09L882.90,549.32L883.40,548.30L883.90,547.48L884.40,546.03L884.90,545.13L885.40,544.57L885.90,543.56L886.40,542.58L886.90,541.65L887.40,540.82L887.90,539.73L888.40,538.46L888.90,537.58L889.40,536.12L889.90,534.88L890.40,534.47L890.90,533.33L891.40,531.74L891.90,530.55L892.40,529.78L892.90,528.62L893.40,527.05L893.90,525.78L894.40,524.58L894.90,523.46L895.40,522.17L895.90,520.73L896.40,520.16L896.90,518.92L897.40,517.15L897.90,515.68L898.40,514.97L898.90,513.73L899.40,512.31L899.90,510.99L900.40,509.38L900.90,508.13L901.40,505.98L901.90,504.67L902.40,503.27L902.90,501.68L903.40,500.38L903.90,499.04L904.40,498.23L904.90,496.56L905.40,495.37L905.90,493.91L906.40,491.73L906.90,490.12L907.40,488.76L907.90,487.36L908.40,485.39L908.90,484.03L909.40,482.56L909.90,481.21L910.40,480.02L910.90,478.55L911.40,476.78L911.90,475.08L912.40,473.40L912.90,471.76L913.40,470.76L913.90,469.04L914.40,468.37L914.90,466.81L915.40,464.62L915.90,463.29L916.40,461.17L916.90,459.57L917.40,458.59L917.90,457.05L918.40,455.48L918.90,453.69L919.40,452.58L919.90,451.06L920.40,450.03L920.90,448.43L921.40,446.97L921.90,445.39L922.40,444.77L922.90,443.64L923.40,442.64L923.90,441.31L924.40,440.01L924.90,438.65L925.40,436.97L925.90,435.80L926.40,434.71L926.90,433.76L927.40,432.80L927.90,431.90L928.40,430.03L928.90,429.13L929.40,428.74L929.90,428.09L930.40,427.31L930.90,426.07L931.40,424.92L931.90,424.22L932.40,423.03L932.90,422.89L933.40,421.86L933.90,421.21L934.40,420.77L934.90,419.50L935.40,419.02L935.90,418.84L936.40,417.63L936.90,416.94L937.40,417.40L937.90,416.80L938.40,416.84L938.90,415.81L939.40,415.78L939.90,415.55L940.40,415.40L940.90,414.45L941.40,414.94L941.90,413.99L942.40,415.20L942.90,414.69L943.40,415.15L943.90,415.14L944.40,414.88L944.90,414.54L945.40,415.15L945.90,415.21L946.40,414.92L946.90,415.54L947.40,417.00L947.90,417.10L948.40,416.90L948.90,417.74L949.40,418.78L949.90,419.36L950.40,418.99L950.90,419.35L951.40,420.86L951.90,421.87L952.40,422.14L952.90,422.80L953.40,423.23L953.90,424.89L954.40,426.05L954.90,426.99L955.40,427.38L955.90,428.85L956.40,430.21L956.90,431.31L957.40,432.64L957.90,433.79L958.40,433.66L958.90,435.21L959.40,437.07L959.90,437.91L960.40,440.06L960.90,441.39L961.40,442.20L961.90,442.99L962.40,444.07L962.90,445.44L963.40,446.96L963.90,447.97L964.40,449.73L964.90,450.84L965.40,453.10L965.90,454.71L966.40,456.53L966.90,457.63L967.40,458.23L967.90,459.61L968.40,461.56L968.90,463.05L969.40,465.09L969.90,466.56L970.40,468.16L970.90,469.45L971.40,469.98L971.90,471.86L972.40,474.11L972.90,475.81L973.40,476.41L973.90,477.88L974.40,479.72L974.90,481.01L975.40,483.16L975.90,484.84L976.40,485.58L976.90,486.86L977.40,488.27L977.90,490.05L978.40,492.24L978.90,493.86L979.40,494.98L979.90,496.30L980.40,497.75L980.90,499.33L981.40,500.81L981.90,502.35L982.40,503.11L982.90,504.65L983.40,506.53L983.90,507.82L984.40,508.97L984.90,510.38L985.40,511.47L985.90,512.86L986.40,514.27L986.90,515.59L987.40,517.28L987.90,518.60L988.40,519.54L988.90,520.70L989.40,522.32L989.90,523.74L990.40,524.56L990.90,525.81L991.40,527.67L991.90,528.77L992.40,529.75L992.90,530.80L993.40,532.07L993.90,533.18L994.40,534.08L994.90,535.23L995.40,536.55L995.90,537.65L996.40,538.76L996.90,539.69L997.40,540.47L997.90,541.39L998.40,542.12L998.90,543.26L999.40,544.12L999.90,545.09L1000.40,546.27L1000.90,547.26L1001.40,548.20L1001.90,549.10L1002.40,549.69L1002.90,550.47L1003.40,551.61L1003.90,552.36L1004.40,553.22L1004.90,553.94L1005.40,554.46L1005.90,555.30L1006.40,556.15L1006.90,556.87L1007.40,557.62L1007.90,558.29L1008.40,558.80L1008.90,559.52L1009.40,560.41L1009.90,561.11L1010.40,561.88L1010.90,562.58L1011.40,563.10L1011.90,563.77L1012.40,564.48L1012.90,565.16L1013.40,565.40L1013.90,566.07L1014.40,566.82L1014.90,567.44L1015.40,567.92L1015.90,568.47L1016.40,569.00L1016.90,569.55L1017.40,570.21L1017.90,570.59L1018.40,571.09L1018.90,571.47L1019.40,572.03L1019.90,572.45L1020.40,572.85L1020.90,573.16L1021.40,573.76L1021.90,574.06L1022.40,574.54L1022.90,574.80L1023.40,575.12L1023.90,575.46L1024.40,575.89L1024.90,576.24L1025.40,576.60L1025.90,576.87L1026.40,577.06L1026.90,577.29L1027.40,577.62L1027.90,577.93L1028.40,578.17L1028.90,578.47L1029.40,578.75L1029.90,578.98L1030.40,579.20L1030.90,579.48L1031.40,579.58L1031.90,579.87L1032.40,580.26L1032.90,580.47L1033.40,580.54L1033.90,580.69L1034.40,580.99L1034.90,581.26L1035.40,581.39L1035.90,581.62L1036.40,581.79L1036.90,581.99L1037.40,582.26L1037.90,582.40L1038.40,582.77L1038.90,582.98L1039.40,583.05L1039.90,583.20L1040.40,583.43L1040.90,583.61L1041.40,583.80L1041.90,583.91L1042.40,584.28L1042.90,584.43L1043.40,584.53L1043.90,584.69L1044.40,584.83L1044.90,584.99L1045.40,585.18L1045.90,585.35L1046.40,585.45L1046.90,585.58L1047.40,585.83L1047.90,585.97L1048.40,586.09L1048.90,586.22L1049.40,586.31L1049.90,586.48L1050.40,586.52L1050.90,586.66L1051.40,586.82L1051.90,586.96L1052.40,587.17L1052.90,587.29L1053.40,587.29L1053.90,587.39L1054.40,587.52L1054.90,587.63L1055.40,587.74L1055.90,587.87L1056.40,587.96L1056.90,588.09L1057.40,588.20L1057.90,588.31L1058.40,588.43L1058.90,588.48L1059.40,588.67L1059.90,588.75L1060.40,588.76L1060.90,588.86L1061.40,588.85L1061.90,588.92L1062.40,589.00L1062.90,589.04L1063.40,589.26L1063.90,589.32L1064.40,589.30L1064.90,589.37L1065.40,589.48L1065.90,589.54L1066.40,589.52L1066.90,589.57L1067.40,589.65L1067.90,589.73L1068.40,589.77L1068.90,589.82L1069.40,589.79L1069.90,589.82L1070.40,589.92L1070.90,589.93L1071.40,589.97L1071.90,590.00L1072.40,589.94L1072.90,589.98L1073.40,590.03L1073.90,590.08L1074.40,590.15L1074.90,590.17L1075.40,590.20L1075.90,590.23L1076.40,590.19L1076.90,590.22L1077.40,590.31L1077.90,590.33L1078.40,590.24L1078.90,590.24L1079.40,590.29L1079.90,590.29L1080.40,590.44L1080.90,590.44L1081.40,590.44L1081.90,590.48L1082.40,590.49L1082.90,590.51L1083.40,590.45L1083.90,590.46L1084.40,590.52L1084.90,590.52L1085.40,590.48L1085.90,590.50L1086.40,590.51L1086.90,590.51L1087.40,590.48L1087.90,590.48L1088.40,590.53L1088.90,590.55L1089.40,590.63L1089.90,590.65L1090.40,590.59L1090.90,590.59L1091.40,590.51L1091.90,590.51L1092.40,590.53L1092.90,590.52L1093.40,590.54L1093.90,590.54L1094.40,590.55L1094.90,590.53L1095.40,590.63L1095.90,590.63L1096.40,590.63L1096.90,590.62L1097.40,590.59L1097.90,590.59L1098.40,590.62L1098.90,590.61L1099.40,590.54L1099.90,590.55L1100.40,590.59L1100.90,590.56L1101.40,590.50L1101.90,590.48L1102.40,590.58L1102.90,590.56L1103.40,590.46L1103.90,590.45L1104.40,590.49L1104.90,590.48L1105.40,590.36L1105.90,590.35L1106.40,590.32L1106.90,590.33L1107.40,590.37L1107.90,590.32L1108.40,590.41L1108.90,590.38L1109.40,590.36L1109.90,590.34L1110.40,590.22L1110.90,590.18L1111.40,590.24L1111.90,590.22L1112.40,590.15L1112.90,590.12L1113.40,590.06L1113.90,590.02L1114.40,590.00L1114.90,589.96L1115.40,589.91L1115.90,589.87L1116.40,589.90L1116.90,589.88L1117.40,589.89L1117.90,589.84L1118.40,589.77L1118.90,589.72L1119.40,589.71L1119.90,589.67L1120.40,589.63L1120.90,589.59L1121.40,589.45L1121.90,589.41L1122.40,589.37L1122.90,589.34L1123.40,589.37L1123.90,589.34L1124.40,589.19L1124.90,589.13L1125.40,589.06L1125.90,589.01L1126.40,589.05L1126.90,589.00L1127.40,588.92L1127.90,588.82L1128.40,588.78L1128.90,588.72L1129.40,588.65L1129.90,588.58L1130.40,588.47L1130.90,588.39L1131.40,588.33L1131.90,588.24L1132.40,588.31L1132.90,588.22L1133.40,588.14L1133.90,588.06L1134.40,587.86L1134.90,587.77L1135.40,587.76L1135.90,587.66L1136.40,587.49L1136.90,587.38L1137.40,587.39L1137.90,587.34L1138.40,587.15L1138.90,587.04L1139.40,586.88L1139.90,586.80L1140.40,586.62L1140.90,586.49L1141.40,586.49L1141.90,586.38L1142.40,586.23L1142.90,586.09L1143.40,585.99L1143.90,585.87L1144.40,585.74L1144.90,585.59L1145.40,585.41L1145.90,585.25L1146.40,585.09L1146.90,584.88L1147.40,584.74L1147.90,584.57L1148.40,584.54L1148.90,584.38L1149.40,584.11L1149.90,583.92L1150.40,583.68L1150.90,583.49L1151.40,583.38L1151.90,583.21L1152.40,582.91L1152.90,582.67L1153.40,582.51L1153.90,582.22L1154.40,582.06L1154.90,581.88L1155.40,581.69L1155.90,581.44L1156.40,581.11L1156.90,580.91L1157.40,580.69L1157.90,580.44L1158.40,580.00L1158.90,579.79L1159.40,579.58L1159.90,579.31L1160.40,579.16L1160.90,578.81L1161.40,578.53L1161.90,578.28L1162.40,577.98L1162.90,577.67L1163.40,577.48L1163.90,577.11L1164.40,576.98L1164.90,576.68L1165.40,576.49L1165.90,576.22L1166.40,576.00L1166.90,575.70L1167.40,575.26L1167.90,574.98L1168.40,574.90L1168.90,574.55L1169.40,574.23L1169.90,573.96L1170.40,573.42L1170.90,572.98L1171.40,572.75L1171.90,572.38L1172.40,572.07L1172.90,571.66L1172.90,574.94L1172.40,575.33L1171.90,575.74L1171.40,575.98L1170.90,576.31L1170.40,576.62L1169.90,577.00L1169.40,577.37L1168.90,577.67L1168.40,578.01L1167.90,578.04L1167.40,578.43L1166.90,578.81L1166.40,579.15L1165.90,579.21L1165.40,579.47L1164.90,579.72L1164.40,579.97L1163.90,580.47L1163.40,580.77L1162.90,580.95L1162.40,581.21L1161.90,581.31L1161.40,581.53L1160.90,581.83L1160.40,582.03L1159.90,582.37L1159.40,582.56L1158.90,582.88L1158.40,583.11L1157.90,583.30L1157.40,583.55L1156.90,583.74L1156.40,583.92L1155.90,584.17L1155.40,584.37L1154.90,584.81L1154.40,584.98L1153.90,585.16L1153.40,585.33L1152.90,585.50L1152.40,585.70L1151.90,585.87L1151.40,586.07L1150.90,586.22L1150.40,586.44L1149.90,586.59L1149.40,586.75L1148.90,586.93L1148.40,587.06L1147.90,587.28L1147.40,587.45L1146.90,587.56L1146.40,587.72L1145.90,587.84L1145.40,587.98L1144.90,588.10L1144.40,588.22L1143.90,588.36L1143.40,588.47L1142.90,588.74L1142.40,588.83L1141.90,588.90L1141.40,589.00L1140.90,589.06L1140.40,589.16L1139.90,589.30L1139.40,589.35L1138.90,589.39L1138.40,589.54L1137.90,589.73L1137.40,589.81L1136.90,589.82L1136.40,589.91L1135.90,590.15L1135.40,590.20L1134.90,590.26L1134.40,590.31L1133.90,590.41L1133.40,590.46L1132.90,590.56L1132.40,590.63L1131.90,590.82L1131.40,590.86L1130.90,590.90L1130.40,590.98L1129.90,591.04L1129.40,591.07L1128.90,591.21L1128.40,591.27L1127.90,591.19L1127.40,591.25L1126.90,591.33L1126.40,591.39L1125.90,591.44L1125.40,591.50L1124.90,591.51L1124.40,591.58L1123.90,591.71L1123.40,591.77L1122.90,591.77L1122.40,591.82L1121.90,591.93L1121.40,591.95L1120.90,591.91L1120.40,591.95L1119.90,592.06L1119.40,592.08L1118.90,592.05L1118.40,592.10L1117.90,592.23L1117.40,592.26L1116.90,592.22L1116.40,592.26L1115.90,592.25L1115.40,592.27L1114.90,592.27L1114.40,592.30L1113.90,592.37L1113.40,592.39L1112.90,592.49L1112.40,592.54L1111.90,592.48L1111.40,592.49L1110.90,592.46L1110.40,592.49L1109.90,592.65L1109.40,592.70L1108.90,592.64L1108.40,592.65L1107.90,592.69L1107.40,592.71L1106.90,592.69L1106.40,592.69L1105.90,592.71L1105.40,592.73L1104.90,592.75L1104.40,592.75L1103.90,592.88L1103.40,592.87L1102.90,592.89L1102.40,592.89L1101.90,592.93L1101.40,592.93L1100.90,592.93L1100.40,592.94L1099.90,592.86L1099.40,592.86L1098.90,592.86L1098.40,592.84L1097.90,592.95L1097.40,592.94L1096.90,592.87L1096.40,592.85L1095.90,592.85L1095.40,592.86L1094.90,592.95L1094.40,592.95L1093.90,592.87L1093.40,592.87L1092.90,592.82L1092.40,592.80L1091.90,592.83L1091.40,592.83L1090.90,592.81L1090.40,592.82L1089.90,592.91L1089.40,592.90L1088.90,592.95L1088.40,592.94L1087.90,592.87L1087.40,592.85L1086.90,592.81L1086.40,592.78L1085.90,592.81L1085.40,592.80L1084.90,592.79L1084.40,592.81L1083.90,592.72L1083.40,592.72L1082.90,592.78L1082.40,592.79L1081.90,592.74L1081.40,592.71L1080.90,592.76L1080.40,592.75L1079.90,592.65L1079.40,592.64L1078.90,592.71L1078.40,592.69L1077.90,592.56L1077.40,592.54L1076.90,592.61L1076.40,592.59L1075.90,592.59L1075.40,592.57L1074.90,592.50L1074.40,592.49L1073.90,592.35L1073.40,592.32L1072.90,592.38L1072.40,592.37L1071.90,592.37L1071.40,592.35L1070.90,592.32L1070.40,592.29L1069.90,592.17L1069.40,592.12L1068.90,592.09L1068.40,592.02L1067.90,592.01L1067.40,591.98L1066.90,591.98L1066.40,591.92L1065.90,591.80L1065.40,591.75L1064.90,591.80L1064.40,591.74L1063.90,591.62L1063.40,591.53L1062.90,591.55L1062.40,591.47L1061.90,591.32L1061.40,591.26L1060.90,591.24L1060.40,591.18L1059.90,591.15L1059.40,591.08L1058.90,590.91L1058.40,590.79L1057.90,590.77L1057.40,590.69L1056.90,590.52L1056.40,590.43L1055.90,590.36L1055.40,590.23L1054.90,590.15L1054.40,590.06L1053.90,589.89L1053.40,589.78L1052.90,589.73L1052.40,589.61L1051.90,589.49L1051.40,589.35L1050.90,589.29L1050.40,589.17L1049.90,588.94L1049.40,588.80L1048.90,588.74L1048.40,588.61L1047.90,588.43L1047.40,588.26L1046.90,588.15L1046.40,588.04L1045.90,587.98L1045.40,587.81L1044.90,587.63L1044.40,587.49L1043.90,587.30L1043.40,587.16L1042.90,587.02L1042.40,586.85L1041.90,586.72L1041.40,586.57L1040.90,586.44L1040.40,586.32L1039.90,586.07L1039.40,585.91L1038.90,585.60L1038.40,585.38L1037.90,585.26L1037.40,585.04L1036.90,584.74L1036.40,584.61L1035.90,584.40L1035.40,584.18L1034.90,584.03L1034.40,583.87L1033.90,583.63L1033.40,583.40L1032.90,583.30L1032.40,583.07L1031.90,582.73L1031.40,582.54L1030.90,582.59L1030.40,582.33L1029.90,581.94L1029.40,581.77L1028.90,581.56L1028.40,581.35L1027.90,581.08L1027.40,580.78L1026.90,580.48L1026.40,580.23L1025.90,579.82L1025.40,579.58L1024.90,579.42L1024.40,579.14L1023.90,578.84L1023.40,578.44L1022.90,578.14L1022.40,577.84L1021.90,577.54L1021.40,577.11L1020.90,576.81L1020.40,576.43L1019.90,575.79L1019.40,575.43L1018.90,575.02L1018.40,574.64L1017.90,574.37L1017.40,573.89L1016.90,573.17L1016.40,572.69L1015.90,572.43L1015.40,571.95L1014.90,571.28L1014.40,570.72L1013.90,570.37L1013.40,569.81L1012.90,569.19L1012.40,568.64L1011.90,567.74L1011.40,567.18L1010.90,566.69L1010.40,566.06L1009.90,565.41L1009.40,564.72L1008.90,564.24L1008.40,563.53L1007.90,562.62L1007.40,561.93L1006.90,561.44L1006.40,560.74L1005.90,559.86L1005.40,559.21L1004.90,558.54L1004.40,557.75L1003.90,556.96L1003.40,556.21L1002.90,555.57L1002.40,554.75L1001.90,553.94L1001.40,553.17L1000.90,552.20L1000.40,551.40L999.90,550.81L999.40,549.80L998.90,549.00L998.40,548.06L997.90,547.13L997.40,546.22L996.90,545.18L996.40,544.18L995.90,543.36L995.40,542.43L994.90,541.56L994.40,540.48L993.90,539.08L993.40,537.91L992.90,537.18L992.40,536.13L991.90,535.29L991.40,534.27L990.90,532.93L990.40,531.83L989.90,530.14L989.40,528.88L988.90,528.00L988.40,526.70L987.90,525.45L987.40,524.16L986.90,523.51L986.40,522.27L985.90,520.47L985.40,519.00L984.90,517.97L984.40,516.63L983.90,515.89L983.40,514.70L982.90,512.55L982.40,511.19L981.90,509.86L981.40,508.67L980.90,507.85L980.40,506.29L979.90,504.50L979.40,502.91L978.90,501.41L978.40,499.90L977.90,499.11L977.40,497.56L976.90,496.27L976.40,494.90L975.90,492.87L975.40,491.41L974.90,490.09L974.40,488.58L973.90,487.20L973.40,485.64L972.90,485.01L972.40,483.47L971.90,480.80L971.40,479.52L970.90,478.59L970.40,476.82L969.90,475.70L969.40,474.09L968.90,471.70L968.40,470.35L967.90,468.92L967.40,467.52L966.90,466.78L966.40,465.67L965.90,463.51L965.40,462.17L964.90,460.59L964.40,459.20L963.90,457.83L963.40,456.51L962.90,455.55L962.40,454.38L961.90,451.82L961.40,450.44L960.90,450.20L960.40,449.23L959.90,446.85L959.40,445.51L958.90,444.65L958.40,443.55L957.90,442.79L957.40,441.57L956.90,439.70L956.40,439.24L955.90,437.53L955.40,436.48L954.90,435.65L954.40,434.66L953.90,434.65L953.40,433.89L952.90,432.86L952.40,431.94L951.90,430.99L951.40,431.00L950.90,430.27L950.40,429.00L949.90,428.52L949.40,428.14L948.90,427.03L948.40,426.20L947.90,426.95L947.40,425.87L946.90,425.85L946.40,424.90L945.90,424.56L945.40,424.53L944.90,424.16L944.40,423.39L943.90,423.35L943.40,423.10L942.90,423.27L942.40,422.54L941.90,423.37L941.40,423.30L940.90,422.60L940.40,423.44L939.90,423.20L939.40,423.71L938.90,423.64L938.40,424.71L937.90,424.60L937.40,424.93L936.90,425.08L936.40,426.01L935.90,426.75L935.40,426.68L934.90,427.96L934.40,428.04L933.90,428.39L933.40,429.53L932.90,430.13L932.40,430.54L931.90,431.41L931.40,432.32L930.90,433.51L930.40,434.35L929.90,435.17L929.40,436.14L928.90,437.64L928.40,439.07L927.90,439.13L927.40,440.71L926.90,442.31L926.40,443.82L925.90,445.01L925.40,445.92L924.90,446.67L924.40,448.18L923.90,449.46L923.40,450.82L922.90,452.12L922.40,453.91L921.90,455.01L921.40,456.22L920.90,457.43L920.40,458.87L919.90,460.23L919.40,461.74L918.90,464.26L918.40,465.73L917.90,466.25L917.40,467.57L916.90,470.22L916.40,471.38L915.90,471.97L915.40,473.35L914.90,475.04L914.40,476.52L913.90,478.29L913.40,479.59L912.90,481.02L912.40,482.74L911.90,483.93L911.40,485.54L910.90,487.70L910.40,489.28L909.90,490.34L909.40,491.77L908.90,493.71L908.40,495.26L907.90,496.00L907.40,497.39L906.90,499.44L906.40,501.14L905.90,501.37L905.40,502.69L904.90,504.94L904.40,506.27L903.90,507.97L903.40,509.46L902.90,510.50L902.40,511.90L901.90,512.54L901.40,513.90L900.90,515.17L900.40,516.43L899.90,517.79L899.40,519.05L898.90,520.44L898.40,521.73L897.90,523.32L897.40,524.43L896.90,526.14L896.40,527.39L895.90,528.61L895.40,529.70L894.90,530.09L894.40,531.39L893.90,533.07L893.40,534.28L892.90,535.00L892.40,536.09L891.90,537.13L891.40,538.27L890.90,539.15L890.40,540.19L889.90,541.42L889.40,542.59L888.90,543.41L888.40,544.33L887.90,545.38L887.40,546.27L886.90,547.15L886.40,548.14L885.90,548.74L885.40,549.69L884.90,550.98L884.40,551.97L883.90,552.48L883.40,553.39L882.90,554.21L882.40,555.07L881.90,555.61L881.40,556.41L880.90,557.32L880.40,558.01L879.90,558.93L879.40,559.67L878.90,560.11L878.40,560.81L877.90,561.55L877.40,562.28L876.90,562.81L876.40,563.49L875.90,564.27L875.40,564.92L874.90,565.72L874.40,566.20L873.90,566.93L873.40,567.53L872.90,567.89L872.40,568.54L871.90,568.97L871.40,569.51L870.90,570.29L870.40,570.76L869.90,571.26L869.40,571.73L868.90,572.11L868.40,572.67L867.90,573.22L867.40,573.73L866.90,574.02L866.40,574.47L865.90,575.07L865.40,575.49L864.90,575.80L864.40,576.26L863.90,576.63L863.40,576.98L862.90,577.25L862.40,577.74L861.90,578.36L861.40,578.70L860.90,578.82L860.40,579.11L859.90,579.73L859.40,580.02L858.90,580.19L858.40,580.48L857.90,581.03L857.40,581.31L856.90,581.48L856.40,581.86L855.90,582.07L855.40,582.40L854.90,582.78L854.40,583.03L853.90,583.35L853.40,583.60L852.90,583.60L852.40,583.90L851.90,584.23L851.40,584.42L850.90,584.67L850.40,584.89L849.90,585.20L849.40,585.46L848.90,585.59L848.40,585.84L847.90,586.12L847.40,586.28L846.90,586.49L846.40,586.64L845.90,586.71L845.40,586.89L844.90,587.09L844.40,587.24L843.90,587.41L843.40,587.61L842.90,587.81L842.40,587.91L841.90,588.11L841.40,588.25L840.90,588.40L840.40,588.52L839.90,588.77L839.40,588.90L838.90,588.88L838.40,589.02L837.90,589.31L837.40,589.46L836.90,589.50L836.40,589.64L835.90,589.68L835.40,589.83L834.90,589.99L834.40,590.08L833.90,590.26L833.40,590.38L832.90,590.48L832.40,590.60L831.90,590.68L831.40,590.79L830.90,590.75L830.40,590.86L829.90,591.06L829.40,591.15L828.90,591.21L828.40,591.30L827.90,591.27L827.40,591.35L826.90,591.56L826.40,591.63L825.90,591.58L825.40,591.67L824.90,591.73L824.40,591.81L823.90,591.87L823.40,591.92L822.90,592.01L822.40,592.10L821.90,592.15L821.40,592.22L820.90,592.34L820.40,592.40L819.90,592.48L819.40,592.53L818.90,592.54L818.40,592.61L817.90,592.70L817.40,592.77L816.90,592.73L816.40,592.80L815.90,592.91L815.40,592.96L814.90,592.96L814.40,592.98L813.90,592.98L813.40,593.04L812.90,593.09L812.40,593.15L811.90,593.24L811.40,593.27L810.90,593.23L810.40,593.27L809.90,593.27L809.40,593.31L808.90,593.39L808.40,593.44L807.90,593.47L807.40,593.51L806.90,593.56L806.40,593.57L805.90,593.61L805.40,593.64L804.90,593.62L804.40,593.66L803.90,593.66L803.40,593.69L802.90,593.72L802.40,593.74L801.90,593.87L801.40,593.89L800.90,593.87L800.40,593.90L799.90,593.96L799.40,593.98L798.90,594.02L798.40,594.03L797.90,594.07L797.40,594.08L796.90,594.01L796.40,594.01L795.90,594.04L795.40,594.06L794.90,594.16L794.40,594.18L793.90,594.09L793.40,594.10L792.90,594.25L792.40,594.26L791.90,594.15L791.40,594.17L790.90,594.20L790.40,594.20L789.90,594.24L789.40,594.25L788.90,594.38L788.40,594.38L787.90,594.39L787.40,594.39L786.90,594.37L786.40,594.39L785.90,594.39L785.40,594.38L784.90,594.37L784.40,594.38L783.90,594.40L783.40,594.42L782.90,594.41L782.40,594.43L781.90,594.45L781.40,594.46L780.90,594.45L780.40,594.45L779.90,594.51L779.40,594.53L778.90,594.49L778.40,594.49L777.90,594.59L777.40,594.59L776.90,594.56L776.40,594.56L775.90,594.61L775.40,594.62L774.90,594.58L774.40,594.59L773.90,594.49L773.40,594.51L772.90,594.61L772.40,594.61L771.90,594.54L771.40,594.54L770.90,594.49L770.40,594.50L769.90,594.51L769.40,594.52L768.90,594.52L768.40,594.52L767.90,594.61L767.40,594.60L766.90,594.53L766.40,594.53L765.90,594.60L765.40,594.58L764.90,594.69L764.40,594.68L763.90,594.64L763.40,594.65L762.90,594.59L762.40,594.61L761.90,594.61L761.40,594.60L760.90,594.59L760.40,594.60L759.90,594.59L759.40,594.60L758.90,594.55L758.40,594.54L757.90,594.62L757.40,594.62L756.90,594.68L756.40,594.66L755.90,594.64L755.40,594.65L754.90,594.62L754.40,594.62L753.90,594.57L753.40,594.55L752.90,594.67L752.40,594.67L751.90,594.56L751.40,594.55L750.90,594.63L750.40,594.62L749.90,594.56L749.40,594.56L748.90,594.54L748.40,594.54L747.90,594.62L747.40,594.61L746.90,594.61L746.40,594.62L745.90,594.62L745.40,594.60L744.90,594.58L744.40,594.59L743.90,594.48L743.40,594.49L742.90,594.50L742.40,594.49L741.90,594.56L741.40,594.54L740.90,594.48L740.40,594.49L739.90,594.54L739.40,594.54L738.90,594.55L738.40,594.53L737.90,594.52L737.40,594.50L736.90,594.38L736.40,594.36L735.90,594.44L735.40,594.42L734.90,594.39L734.40,594.37L733.90,594.41L733.40,594.38L732.90,594.44L732.40,594.45L731.90,594.30L731.40,594.29L730.90,594.31L730.40,594.31L729.90,594.25L729.40,594.22L728.90,594.27L728.40,594.25L727.90,594.21L727.40,594.21L726.90,594.25L726.40,594.23L725.90,594.27L725.40,594.24L724.90,594.07L724.40,594.07L723.90,594.10L723.40,594.08L722.90,594.05L722.40,594.02L721.90,594.00L721.40,593.99L720.90,594.09L720.40,594.06L719.90,593.89L719.40,593.86L718.90,593.93L718.40,593.91L717.90,593.95L717.40,593.93L716.90,593.79L716.40,593.77L715.90,593.78L715.40,593.75L714.90,593.67L714.40,593.65L713.90,593.63L713.40,593.59L712.90,593.54L712.40,593.53L711.90,593.54L711.40,593.53L710.90,593.56L710.40,593.52L709.90,593.42L709.40,593.38L708.90,593.39L708.40,593.36L707.90,593.34L707.40,593.28L706.90,593.22L706.40,593.19L705.90,593.15L705.40,593.12L704.90,592.98L704.40,592.93L703.90,592.96L703.40,592.91L702.90,592.81L702.40,592.74L701.90,592.70L701.40,592.64L700.90,592.61L700.40,592.54L699.90,592.54L699.40,592.49L698.90,592.42L698.40,592.35L697.90,592.33L697.40,592.29L696.90,592.10L696.40,592.05L695.90,592.02L695.40,591.95L694.90,591.98L694.40,591.92L693.90,591.90L693.40,591.81L692.90,591.61L692.40,591.54L691.90,591.51L691.40,591.42L690.90,591.39L690.40,591.31L689.90,591.11L689.40,591.02L688.90,590.87L688.40,590.78L687.90,590.77L687.40,590.67L686.90,590.59L686.40,590.50L685.90,590.41L685.40,590.29L684.90,590.20L684.40,590.11L683.90,590.04L683.40,589.93L682.90,589.68L682.40,589.54L681.90,589.48L681.40,589.37L680.90,589.24L680.40,589.08L679.90,588.81L679.40,588.67L678.90,588.62L678.40,588.44L677.90,588.42L677.40,588.23L676.90,588.09L676.40,587.93L675.90,587.65L675.40,587.43L674.90,587.43L674.40,587.25L673.90,586.92L673.40,586.71L672.90,586.60L672.40,586.34L671.90,586.20L671.40,585.99L670.90,585.81L670.40,585.63L669.90,585.49L669.40,585.29L668.90,584.95L668.40,584.70L667.90,584.58L667.40,584.37L666.90,583.92L666.40,583.65L665.90,583.57L665.40,583.32L664.90,582.85L664.40,582.64L663.90,582.53L663.40,582.24L662.90,581.73L662.40,581.43L661.90,581.19L661.40,580.82L660.90,580.68L660.40,580.31L659.90,579.83L659.40,579.56L658.90,579.35L658.40,578.94L657.90,578.53L657.40,578.18L656.90,577.75L656.40,577.40L655.90,576.92L655.40,576.55L654.90,576.12L654.40,575.70L653.90,575.24L653.40,574.75L652.90,574.47L652.40,573.94L651.90,573.41L651.40,572.92L650.90,572.68L650.40,572.17L649.90,571.33L649.40,570.85L648.90,570.62L648.40,570.19L647.90,569.26L647.40,568.75L646.90,568.42L646.40,567.81L645.90,567.27L645.40,566.66L644.90,565.71L644.40,565.11L643.90,564.51L643.40,563.80L642.90,563.52L642.40,562.87L641.90,562.02L641.40,561.30L640.90,560.52L640.40,559.86L639.90,558.92L639.40,558.20L638.90,557.52L638.40,556.84L637.90,556.05L637.40,555.22L636.90,554.27L636.40,553.50L635.90,552.79L635.40,551.84L634.90,551.14L634.40,550.39L633.90,548.97L633.40,548.12L632.90,547.18L632.40,546.29L631.90,545.58L631.40,544.65L630.90,543.19L630.40,542.12L629.90,541.31L629.40,540.22L628.90,539.30L628.40,538.16L627.90,537.26L627.40,536.31L626.90,534.80L626.40,533.71L625.90,532.42L625.40,531.31L624.90,530.53L624.40,529.43L623.90,528.02L623.40,526.83L622.90,525.43L622.40,524.16L621.90,522.90L621.40,521.51L620.90,521.13L620.40,519.84L619.90,518.48L619.40,517.00L618.90,515.51L618.40,514.32L617.90,512.89L617.40,511.77L616.90,510.27L616.40,508.93L615.90,506.93L615.40,505.56L614.90,504.12L614.40,502.77L613.90,501.80L613.40,500.59L612.90,498.73L612.40,497.28L611.90,495.50L611.40,494.00L610.90,492.16L610.40,490.55L609.90,489.96L609.40,488.56L608.90,486.31L608.40,485.08L607.90,483.45L607.40,481.65L606.90,480.94L606.40,479.42L605.90,477.32L605.40,475.67L604.90,474.79L604.40,473.41L603.90,471.98L603.40,470.57L602.90,468.14L602.40,466.51L601.90,466.17L601.40,464.52L600.90,462.74L600.40,461.03L599.90,459.87L599.40,458.28L598.90,457.12L598.40,455.61L597.90,454.78L597.40,453.31L596.90,451.97L596.40,450.45L595.90,449.34L595.40,447.82L594.90,447.20L594.40,446.04L593.90,443.60L593.40,442.63L592.90,441.28L592.40,440.27L591.90,439.39L591.40,438.56L590.90,436.89L590.40,435.85L589.90,435.32L589.40,434.44L588.90,434.06L588.40,433.42L587.90,432.04L587.40,431.02L586.90,430.40L586.40,429.94L585.90,429.21L585.40,427.79L584.90,427.48L584.40,427.10L583.90,426.40L583.40,425.86L582.90,425.15L582.40,425.70L581.90,425.65L581.40,424.27L580.90,424.92L580.40,424.36L579.90,423.29L579.40,424.07L578.90,423.16L578.40,422.85L577.90,423.22L577.40,423.23L576.90,423.51L576.40,423.19L575.90,423.70L575.40,423.52L574.90,424.16L574.40,423.79L573.90,424.18L573.40,424.23L572.90,424.99L572.40,426.02L571.90,426.41L571.40,426.65L570.90,427.50L570.40,427.81L569.90,428.49L569.40,429.13L568.90,429.59L568.40,430.51L567.90,431.70L567.40,432.68L566.90,433.82L566.40,434.82L565.90,434.69L565.40,436.06L564.90,437.18L564.40,438.08L563.90,439.20L563.40,440.22L562.90,442.86L562.40,444.11L561.90,444.03L561.40,445.28L560.90,446.56L560.40,447.85L559.90,449.04L559.40,450.36L558.90,453.25L558.40,454.52L557.90,455.67L557.40,457.11L556.90,456.99L556.40,458.78L555.90,461.52L555.40,463.09L554.90,463.82L554.40,465.17L553.90,466.13L553.40,467.67L552.90,468.82L552.40,470.37L551.90,472.72L551.40,474.12L550.90,475.96L550.40,477.42L549.90,479.27L549.40,480.90L548.90,481.53L548.40,483.02L547.90,484.47L547.40,486.04L546.90,488.17L546.40,489.52L545.90,490.60L545.40,492.13L544.90,494.22L544.40,495.75L543.90,497.13L543.40,498.46L542.90,499.77L542.40,501.40L541.90,502.07L541.40,503.57L540.90,505.27L540.40,506.77L539.90,507.98L539.40,509.53L538.90,511.39L538.40,512.63L537.90,513.97L537.40,515.46L536.90,516.17L536.40,517.47L535.90,518.91L535.40,520.13L534.90,521.96L534.40,523.19L533.90,524.22L533.40,525.31L532.90,526.80L532.40,527.98L531.90,529.39L531.40,530.63L530.90,531.43L530.40,532.63L529.90,533.83L529.40,534.90L528.90,535.50L528.40,536.72L527.90,538.21L527.40,539.26L526.90,540.51L526.40,541.50L525.90,542.24L525.40,543.26L524.90,544.49L524.40,545.54L523.90,545.91L523.40,546.93L522.90,548.21L522.40,549.00L521.90,550.11L521.40,551.01L520.90,552.06L520.40,552.76L519.90,553.45L519.40,554.29L518.90,555.06L518.40,555.78L517.90,556.82L517.40,557.55L516.90,558.23L516.40,558.98L515.90,559.95L515.40,560.59L514.90,560.95L514.40,561.63L513.90,562.50L513.40,563.16L512.90,563.87L512.40,564.41L511.90,565.24L511.40,565.90L510.90,566.37L510.40,567.03L509.90,567.78L509.40,568.35L508.90,568.89L508.40,569.48L507.90,569.84L507.40,570.29L506.90,571.10L506.40,571.52L505.90,572.06L505.40,572.62L504.90,572.87L504.40,573.39L503.90,573.72L503.40,574.15L502.90,574.64L502.40,575.07L501.90,575.55L501.40,576.08L500.90,576.55L500.40,576.95L499.90,577.38L499.40,577.84L498.90,577.90L498.40,578.32L497.90,578.69L497.40,579.12L496.90,579.66L496.40,580.00L495.90,580.30L495.40,580.66L494.90,580.97L494.40,581.27L493.90,581.34L493.40,581.68L492.90,582.10L492.40,582.36L491.90,582.64L491.40,582.89L490.90,583.28L490.40,583.48L489.90,583.79L489.40,584.09L488.90,584.15L488.40,584.39L487.90,584.82L487.40,585.00L486.90,585.22L486.40,585.45L485.90,585.71L485.40,585.88L484.90,586.07L484.40,586.30L483.90,586.37L483.40,586.53L482.90,586.80L482.40,586.93L481.90,587.20L481.40,587.40L480.90,587.42L480.40,587.65L479.90,587.90L479.40,588.09L478.90,588.28L478.40,588.40L477.90,588.52L477.40,588.64L476.90,588.65L476.40,588.82L475.90,589.16L475.40,589.24L474.90,589.32L474.40,589.46L473.90,589.58L473.40,589.71L472.90,589.87L472.40,589.98L471.90,590.01L471.40,590.15L470.90,590.25L470.40,590.40L469.90,590.39L469.40,590.47L468.90,590.60L468.40,590.72L467.90,590.93L467.40,591.01L466.90,591.01L466.40,591.11L465.90,591.31L465.40,591.40L464.90,591.46L464.40,591.57L463.90,591.52L463.40,591.59L462.90,591.73L462.40,591.81L461.90,591.78L461.40,591.85L460.90,592.11L460.40,592.19L459.90,592.24L459.40,592.30L458.90,592.33L458.40,592.38L457.90,592.45L457.40,592.49L456.90,592.48L456.40,592.57L455.90,592.61L455.40,592.64L454.90,592.76L454.40,592.79L453.90,592.87L453.40,592.91L452.90,592.87L452.40,592.95L451.90,593.03L451.40,593.07L450.90,593.19L450.40,593.22L449.90,593.15L449.40,593.21L448.90,593.30L448.40,593.34L447.90,593.32L447.40,593.37L446.90,593.47L446.40,593.52L445.90,593.55L445.40,593.60L444.90,593.58L444.40,593.62L443.90,593.62L443.40,593.67L442.90,593.73L442.40,593.76L441.90,593.70L441.40,593.73L440.90,593.88L440.40,593.92L439.90,593.84L439.40,593.88L438.90,593.95L438.40,593.99L437.90,594.04L437.40,594.06L436.90,594.01L436.40,594.04L435.90,594.04L435.40,594.06L434.90,594.16L434.40,594.18L433.90,594.21L433.40,594.23L432.90,594.23L432.40,594.25L431.90,594.18L431.40,594.19L430.90,594.32L430.40,594.32L429.90,594.26L429.40,594.28L428.90,594.36L428.40,594.37L427.90,594.46L427.40,594.46L426.90,594.44L426.40,594.46L425.90,594.52L425.40,594.54L424.90,594.44L424.40,594.46L423.90,594.57L423.40,594.57L422.90,594.58L422.40,594.58L421.90,594.55L421.40,594.57L420.90,594.64L420.40,594.65L419.90,594.62L419.40,594.63L418.90,594.60L418.40,594.63L417.90,594.72L417.40,594.73L416.90,594.68L416.40,594.71L415.90,594.77L415.40,594.77L414.90,594.74L414.40,594.76L413.90,594.80L413.40,594.80L412.90,594.70L412.40,594.71L411.90,594.72L411.40,594.73L410.90,594.77L410.40,594.77L409.90,594.75L409.40,594.77L408.90,594.81L408.40,594.82L407.90,594.92L407.40,594.93L406.90,594.88L406.40,594.87L405.90,594.87L405.40,594.88L404.90,594.88L404.40,594.87L403.90,594.92L403.40,594.92L402.90,594.84L402.40,594.84L401.90,595.00L401.40,595.00L400.90,594.92L400.40,594.92L399.90,594.99L399.40,595.00L398.90,595.03L398.40,595.04L397.90,595.04L397.40,595.04L396.90,594.96L396.40,594.96L395.90,595.01L395.40,595.01L394.90,595.02L394.40,595.01L393.90,594.92L393.40,594.93L392.90,595.06L392.40,595.06L391.90,594.96L391.40,594.96L390.90,595.11L390.40,595.10L389.90,595.00L389.40,595.00L388.90,595.12L388.40,595.12L387.90,595.06L387.40,595.07L386.90,595.09L386.40,595.08L385.90,595.14L385.40,595.13L384.90,595.05L384.40,595.04L383.90,595.13L383.40,595.12L382.90,595.08L382.40,595.08L381.90,595.13L381.40,595.14L380.90,595.15L380.40,595.14L379.90,595.12L379.40,595.12L378.90,595.06L378.40,595.06L377.90,595.06L377.40,595.06L376.90,595.10L376.40,595.11L375.90,595.07L375.40,595.07L374.90,595.12L374.40,595.11L373.90,595.11L373.40,595.11L372.90,595.18L372.40,595.18L371.90,595.11L371.40,595.11L370.90,595.18L370.40,595.18L369.90,595.24L369.40,595.23L368.90,595.20L368.40,595.19L367.90,595.19L367.40,595.19L366.90,595.12L366.40,595.12L365.90,595.19L365.40,595.21L364.90,595.12L364.40,595.11L363.90,595.19L363.40,595.19L362.90,595.24L362.40,595.25L361.90,595.18L361.40,595.19L360.90,595.28L360.40,595.29L359.90,595.29L359.40,595.30L358.90,595.29L358.40,595.29L357.90,595.21L357.40,595.22L356.90,595.26L356.40,595.27L355.90,595.21L355.40,595.21L354.90,595.26L354.40,595.26L353.90,595.32L353.40,595.32L352.90,595.27L352.40,595.29L351.90,595.19L351.40,595.19L350.90,595.22L350.40,595.22L349.90,595.32L349.40,595.33L348.90,595.27L348.40,595.27L347.90,595.29L347.40,595.31L346.90,595.21L346.40,595.21L345.90,595.20L345.40,595.19L344.90,595.24L344.40,595.23L343.90,595.26L343.40,595.27L342.90,595.29L342.40,595.29L341.90,595.29L341.40,595.28L340.90,595.26L340.40,595.27L339.90,595.34L339.40,595.33L338.90,595.20L338.40,595.20L337.90,595.30L337.40,595.29L336.90,595.30L336.40,595.32L335.90,595.22L335.40,595.24L334.90,595.31L334.40,595.32L333.90,595.37L333.40,595.37L332.90,595.35L332.40,595.37L331.90,595.31L331.40,595.32L330.90,595.21L330.40,595.21L329.90,595.22L329.40,595.22L328.90,595.25L328.40,595.25L327.90,595.34L327.40,595.35L326.90,595.38L326.40,595.39L325.90,595.23L325.40,595.23L324.90,595.28L324.40,595.28L323.90,595.31L323.40,595.31L322.90,595.33L322.40,595.34L321.90,595.37L321.40,595.37L320.90,595.34L320.40,595.34L319.90,595.26L319.40,595.27L318.90,595.28L318.40,595.29L317.90,595.24L317.40,595.25L316.90,595.24L316.40,595.24L315.90,595.29L315.40,595.30L314.90,595.34L314.40,595.34L313.90,595.25L313.40,595.25L312.90,595.39L312.40,595.39L311.90,595.30L311.40,595.29L310.90,595.25L310.40,595.24L309.90,595.36L309.40,595.35L308.90,595.25L308.40,595.26L307.90,595.26L307.40,595.24L306.90,595.33L306.40,595.32L305.90,595.33L305.40,595.32L304.90,595.31L304.40,595.32L303.90,595.29L303.40,595.29L302.90,595.38L302.40,595.38L301.90,595.35L301.40,595.35L300.90,595.39L300.40,595.40L299.90,595.39L299.40,595.39L298.90,595.34L298.40,595.32L297.90,595.38L297.40,595.37L296.90,595.35L296.40,595.34L295.90,595.39L295.40,595.40L294.90,595.28L294.40,595.28L293.90,595.28L293.40,595.29L292.90,595.40L292.40,595.40L291.90,595.28L291.40,595.28L290.90,595.31L290.40,595.30L289.90,595.34L289.40,595.34L288.90,595.32L288.40,595.33L287.90,595.25L287.40,595.26L286.90,595.30L286.40,595.30L285.90,595.37L285.40,595.37L284.90,595.28L284.40,595.27L283.90,595.32L283.40,595.34L282.90,595.35L282.40,595.34L281.90,595.31L281.40,595.30L280.90,595.41L280.40,595.40L279.90,595.28L279.40,595.29L278.90,595.34L278.40,595.34L277.90,595.29L277.40,595.29L276.90,595.38L276.40,595.38L275.90,595.30L275.40,595.30L274.90,595.33L274.40,595.32L273.90,595.29L273.40,595.30L272.90,595.30L272.40,595.30L271.90,595.41L271.40,595.42L270.90,595.41L270.40,595.40L269.90,595.36L269.40,595.35L268.90,595.26L268.40,595.25L267.90,595.27L267.40,595.27L266.90,595.33L266.40,595.33L265.90,595.37L265.40,595.36L264.90,595.33L264.40,595.33L263.90,595.36L263.40,595.35L262.90,595.36L262.40,595.35L261.90,595.36L261.40,595.35L260.90,595.28L260.40,595.26L259.90,595.25L259.40,595.25L258.90,595.28L258.40,595.28L257.90,595.35L257.40,595.34L256.90,595.35L256.40,595.35L255.90,595.28L255.40,595.28L254.90,595.33L254.40,595.33L253.90,595.40L253.40,595.40L252.90,595.32L252.40,595.32L251.90,595.31L251.40,595.31L250.90,595.38L250.40,595.37L249.90,595.32L249.40,595.33L248.90,595.30L248.40,595.30L247.90,595.34L247.40,595.34L246.90,595.35L246.40,595.35L245.90,595.27L245.40,595.27L244.90,595.37L244.40,595.38L243.90,595.34L243.40,595.35L242.90,595.38L242.40,595.38L241.90,595.34L241.40,595.35L240.90,595.35L240.40,595.35L239.90,595.30L239.40,595.29L238.90,595.29L238.40,595.28L237.90,595.32L237.40,595.32L236.90,595.38L236.40,595.37L235.90,595.28L235.40,595.29L234.90,595.36L234.40,595.36L233.90,595.34L233.40,595.33L232.90,595.28L232.40,595.29L231.90,595.32L231.40,595.33L230.90,595.25L230.40,595.25L229.90,595.32L229.40,595.31L228.90,595.34L228.40,595.34L227.90,595.36L227.40,595.36L226.90,595.40L226.40,595.39L225.90,595.27L225.40,595.26L224.90,595.32L224.40,595.32L223.90,595.29L223.40,595.29L222.90,595.33L222.40,595.34L221.90,595.33L221.40,595.33L220.90,595.30L220.40,595.30L219.90,595.37L219.40,595.37L218.90,595.30L218.40,595.32L217.90,595.39L217.40,595.39L216.90,595.29L216.40,595.30L215.90,595.37L215.40,595.37L214.90,595.26L214.40,595.25L213.90,595.38L213.40,595.38L212.90,595.31L212.40,595.31L211.90,595.29L211.40,595.28L210.90,595.33L210.40,595.32L209.90,595.26L209.40,595.26L208.90,595.35L208.40,595.35L207.90,595.29L207.40,595.29L206.90,595.34L206.40,595.33L205.90,595.29L205.40,595.30L204.90,595.25L204.40,595.25L203.90,595.26L203.40,595.27L202.90,595.27L202.40,595.27L201.90,595.34L201.40,595.35L200.90,595.37L200.40,595.36L199.90,595.38L199.40,595.39L198.90,595.34L198.40,595.34L197.90,595.38L197.40,595.37L196.90,595.36L196.40,595.37L195.90,595.34L195.40,595.34L194.90,595.31L194.40,595.30L193.90,595.31L193.40,595.31L192.90,595.33L192.40,595.34L191.90,595.31L191.40,595.30L190.90,595.31L190.40,595.32L189.90,595.31L189.40,595.30L188.90,595.31L188.40,595.32L187.90,595.32L187.40,595.32L186.90,595.39L186.40,595.40L185.90,595.35L185.40,595.36L184.90,595.33L184.40,595.33L183.90,595.24L183.40,595.25L182.90,595.31L182.40,595.32L181.90,595.38L181.40,595.38L180.90,595.29L180.40,595.28L179.90,595.41L179.40,595.41L178.90,595.28L178.40,595.29L177.90,595.30L177.40,595.30L176.90,595.36L176.40,595.36L175.90,595.34L175.40,595.33L174.90,595.33L174.40,595.32L173.90,595.26L173.40,595.26L172.90,595.26L172.40,595.26L171.90,595.28L171.40,595.28L170.90,595.26L170.40,595.26L169.90,595.34L169.40,595.34L168.90,595.29L168.40,595.29L167.90,595.32L167.40,595.31L166.90,595.34L166.40,595.33L165.90,595.30L165.40,595.30L164.90,595.27L164.40,595.27L163.90,595.36L163.40,595.37L162.90,595.28L162.40,595.28L161.90,595.37L161.40,595.37L160.90,595.34L160.40,595.35L159.90,595.30L159.40,595.31L158.90,595.37L158.40,595.37L157.90,595.34L157.40,595.33L156.90,595.38L156.40,595.39L155.90,595.40L155.40,595.40L154.90,595.28L154.40,595.29L153.90,595.32L153.40,595.31L152.90,595.33L152.40,595.34L151.90,595.35L151.40,595.36L150.90,595.37L150.40,595.37L149.90,595.34L149.40,595.35L148.90,595.39L148.40,595.39L147.90,595.37L147.40,595.36L146.90,595.31L146.40,595.30L145.90,595.32L145.40,595.31L144.90,595.35L144.40,595.36L143.90,595.25L143.40,595.26L142.90,595.26L142.40,595.25L141.90,595.29L141.40,595.28L140.90,595.31L140.40,595.32L139.90,595.34L139.40,595.35L138.90,595.40L138.40,595.38L137.90,595.38L137.40,595.37L136.90,595.27L136.40,595.27L135.90,595.29L135.40,595.30L134.90,595.32L134.40,595.32L133.90,595.36L133.40,595.37L132.90,595.36L132.40,595.36L131.90,595.39L131.40,595.38L130.90,595.41L130.40,595.41L129.90,595.33L129.40,595.33L128.90,595.27L128.40,595.27L127.90,595.31L127.40,595.31L126.90,595.29L126.40,595.29L125.90,595.32L125.40,595.33L124.90,595.33L124.40,595.33L123.90,595.39L123.40,595.39L122.90,595.32L122.40,595.31L121.90,595.38L121.40,595.37L120.90,595.34L120.40,595.34L119.90,595.41L119.40,595.41L118.90,595.32L118.40,595.33L117.90,595.31L117.40,595.31L116.90,595.33L116.40,595.33Z" fill="#ff7f0e"/>
<path d="M115.36 594.22h1.2M1172.92 573.68l1.25 -0.7" stroke="#ff7f0e" stroke-width="2.083" fill="none"/>
</g>
<g stroke="#000" stroke-width="1.111" fill="none">
<rect x="64.5" y="80.5" width="1162.0" height="539.0"/>
<path d="M116.5 619.5V624.5"/>
<path d="M327.5 619.5V624.5"/>
<path d="M539.5 619.5V624.5"/>
<path d="M750.5 619.5V624.5"/>
<path d="M961.5 619.5V624.5"/>
<path d="M1173.5 619.5V624.5"/>
<path d="M64.5 594.5H59.5"/>
<path d="M64.5 497.5H59.5"/>
<path d="M64.5 399.5H59.5"/>
<path d="M64.5 302.5H59.5"/>
<path d="M64.5 204.5H59.5"/>
<path d="M64.5 107.5H59.5"/>
</g>
<g font-size="13.889" fill="#000">
<text x="116.40" y="640" text-anchor="middle">0</text>
<text x="327.76" y="640" text-anchor="middle">2000</text>
<text x="539.13" y="640" text-anchor="middle">4000</text>
<text x="750.49" y="640" text-anchor="middle">6000</text>
<text x="961.86" y="640" text-anchor="middle">8000</text>
<text x="1173.22" y="640" text-anchor="middle">10000</text>
<text x="53.84" y="600.00" text-anchor="end">0.0</text>
<text x="53.84" y="503.00" text-anchor="end">0.2</text>
<text x="53.84" y="405.00" text-anchor="end">0.4</text>
<text x="53.84" y="308.00" text-anchor="end">0.6</text>
<text x="53.84" y="210.00" text-anchor="end">0.8</text>
<text x="53.84" y="113.00" text-anchor="end">1.0</text>
</g>
<text x="628.9" y="660.5" font-size="13.889" font-style="italic"><tspan>t</tspan><tspan dx="1.4" font-style="normal">[</tspan><tspan dx="0.9">yr</tspan><tspan font-style="normal">]</tspan></text>
<text transform="translate(21.3,382.3) rotate(-90)" font-size="13.889" font-style="italic"><tspan>a</tspan><tspan dx="0.5" font-style="normal">[</tspan><tspan dx="1.0">au</tspan><tspan dx="-0.6" font-style="normal">]</tspan><tspan dx="2.9">or</tspan><tspan dx="1.4">e</tspan></text>
<g font-size="16.667" fill="#000">
<g transform="matrix(1 0 0 1.085 0 -2.176)">
<text x="14.41" y="25.6" textLength="694.2" lengthAdjust="spacing" xml:space="preserve">Semi major axis and eccentricity for a system composed of Body of mass: 1.0e+00</text>
<text x="713.41" y="25.6"><tspan font-style="italic">M</tspan><tspan font-size="11.667" dx="2.5" dy="3.2">⊙</tspan></text>
<text x="748.34" y="25.6" textLength="205.76" lengthAdjust="spacing" xml:space="preserve">; Body of mass: 1.0e+00</text>
<text x="958.90" y="25.6"><tspan font-style="italic">M</tspan><tspan font-size="11.667" dx="2.5" dy="3.2">⊙</tspan></text>
<text x="993.83" y="25.6" textLength="197.83" lengthAdjust="spacing" xml:space="preserve">; Body of mass: 1.0e-01</text>
<text x="1196.46" y="25.6"><tspan font-style="italic">M</tspan><tspan font-size="11.667" dx="2.5" dy="3.2">⊙</tspan></text>
<text x="1230.89" y="25.6" xml:space="preserve">;</text>
</g>
<g transform="matrix(1 0 0 1.085 0 -4.131)"><text x="294.19" y="48.6" textLength="669.0" lengthAdjust="spacing">integrated with leapfrog for a duration of 10000.00 years with initial parameters</text></g>
<g transform="matrix(1 0 0 1.085 0 -6.086)">
<text x="141.88" y="71.6" textLength="206.0" lengthAdjust="spacing">a1 = 1.00 au, e1 = 0.00,</text>
<text x="353.18" y="71.6" font-style="italic">ψ</text>
<text x="364.58" y="71.6" textLength="303.03" lengthAdjust="spacing">1 = 0.00° ; a2 = 1.00 au, e2 = 0.00,</text>
<text x="672.47" y="71.6" font-style="italic">ψ</text>
<text x="684.08" y="71.6" textLength="312.9" lengthAdjust="spacing">2 = 0.00° ; a3 = 10.00 au, e3 = 0.25,</text>
<text x="1001.46" y="71.6" font-style="italic">ψ</text>
<text x="1012.43" y="71.6" textLength="101.85" lengthAdjust="spacing">3 = 80.00° ;</text>
</g>
</g>
<rect x="1018.5" y="326.5" width="201" height="46" rx="2.78" ry="2.78" fill="#ffffff" fill-opacity="0.8" stroke="#cccccc" stroke-opacity="0.8" stroke-width="1.389"/>
<path d="M1021.95 338H1052.05" stroke="#1f77b4" stroke-width="2.083"/>
<path d="M1021.95 359H1052.05" stroke="#ff7f0e" stroke-width="2.083"/>
<g font-size="13.889" fill="#000"><text x="1062.06" y="343">a (step of 4.32e+05s)</text><text x="1062.06" y="364">e (step of 4.32e+05s)</text></g>
</svg>
</body></html>
